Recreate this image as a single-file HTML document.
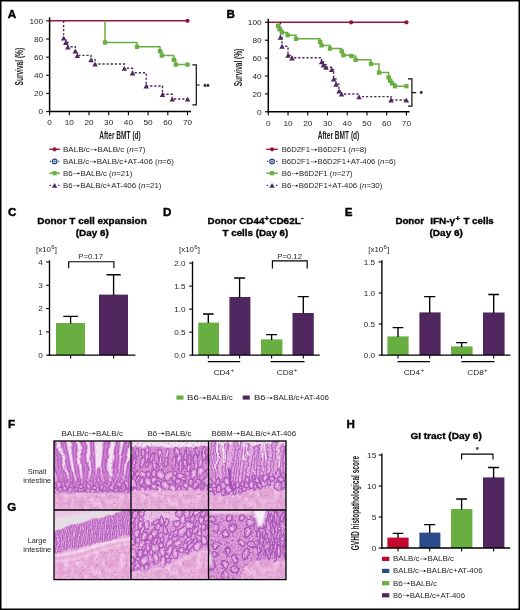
<!DOCTYPE html>
<html><head><meta charset="utf-8"><title>Figure</title>
<style>
html,body{margin:0;padding:0;background:#fff;}
body{width:520px;height:610px;overflow:hidden;position:relative;font-family:"Liberation Sans",sans-serif;}
svg{position:absolute;left:0;top:0;display:block;}
svg text{font-family:"Liberation Sans",sans-serif;}
#frame{position:absolute;left:0;top:0;width:520px;height:610px;box-sizing:border-box;border:1.5px solid #000;pointer-events:none;}
</style></head><body>
<svg width="520" height="610" viewBox="0 0 520 610">
<rect x="0" y="0" width="520" height="610" fill="#fff"/>
<g style="filter:blur(0.32px)">
<defs>
<filter id="hpink" x="0" y="0" width="100%" height="100%" color-interpolation-filters="sRGB">
  <feTurbulence type="fractalNoise" baseFrequency="0.2 0.12" numOctaves="2" seed="23" result="n2"/>
  <feColorMatrix in="n2" type="matrix" values="0 0 0 0 0.97  0 0 0 0 0.80  0 0 0 0 0.92  0 1.6 1.2 0 -1.15" result="lt"/>
  <feTurbulence type="fractalNoise" baseFrequency="0.5" numOctaves="2" seed="9" result="n"/>
  <feColorMatrix in="n" type="matrix" values="0 0 0 0 0.68  0 0 0 0 0.36  0 0 0 0 0.72  1.3 1.3 0 0 -1.42" result="dk0"/>
  <feGaussianBlur in="dk0" stdDeviation="0.3" result="dk"/>
  <feMerge result="m"><feMergeNode in="SourceGraphic"/><feMergeNode in="lt"/><feMergeNode in="dk"/></feMerge>
  <feComposite in="m" in2="SourceAlpha" operator="in" result="c"/>
  <feGaussianBlur in="c" stdDeviation="0.4"/>
</filter>
<filter id="hdisp" x="0" y="0" width="100%" height="100%" color-interpolation-filters="sRGB">
  <feTurbulence type="fractalNoise" baseFrequency="0.07" numOctaves="1" seed="4" result="t"/>
  <feDisplacementMap in="SourceGraphic" in2="t" scale="8" xChannelSelector="R" yChannelSelector="G" result="d"/>
  <feTurbulence type="fractalNoise" baseFrequency="0.5" numOctaves="2" seed="15" result="n"/>
  <feColorMatrix in="n" type="matrix" values="0 0 0 0 0.58  0 0 0 0 0.25  0 0 0 0 0.66  1.3 1.3 0 0 -1.5" result="dk0"/>
  <feGaussianBlur in="dk0" stdDeviation="0.3" result="dk1"/>
  <feComposite in="dk1" in2="d" operator="in" result="dk"/>
  <feMerge result="m"><feMergeNode in="d"/><feMergeNode in="dk"/></feMerge>
  <feGaussianBlur in="m" stdDeviation="0.5"/>
</filter>
<filter id="hdisp2" x="0" y="0" width="100%" height="100%" color-interpolation-filters="sRGB">
  <feTurbulence type="fractalNoise" baseFrequency="0.09" numOctaves="1" seed="14" result="t"/>
  <feDisplacementMap in="SourceGraphic" in2="t" scale="7" xChannelSelector="R" yChannelSelector="G" result="d"/>
  <feTurbulence type="fractalNoise" baseFrequency="0.5" numOctaves="2" seed="25" result="n"/>
  <feColorMatrix in="n" type="matrix" values="0 0 0 0 0.58  0 0 0 0 0.25  0 0 0 0 0.66  1.3 1.3 0 0 -1.36" result="dk0"/>
  <feGaussianBlur in="dk0" stdDeviation="0.3" result="dk1"/>
  <feComposite in="dk1" in2="d" operator="in" result="dk"/>
  <feMerge result="m"><feMergeNode in="d"/><feMergeNode in="dk"/></feMerge>
  <feGaussianBlur in="m" stdDeviation="0.55"/>
</filter>
<filter id="hdisp3" x="0" y="0" width="100%" height="100%" color-interpolation-filters="sRGB">
  <feTurbulence type="fractalNoise" baseFrequency="0.09" numOctaves="1" seed="31" result="t"/>
  <feDisplacementMap in="SourceGraphic" in2="t" scale="7" xChannelSelector="R" yChannelSelector="G" result="d"/>
  <feTurbulence type="fractalNoise" baseFrequency="0.5" numOctaves="2" seed="35" result="n"/>
  <feColorMatrix in="n" type="matrix" values="0 0 0 0 0.58  0 0 0 0 0.25  0 0 0 0 0.66  1.3 1.3 0 0 -1.2" result="dk0"/>
  <feGaussianBlur in="dk0" stdDeviation="0.3" result="dk1"/>
  <feComposite in="dk1" in2="d" operator="in" result="dk"/>
  <feMerge result="m"><feMergeNode in="d"/><feMergeNode in="dk"/></feMerge>
  <feGaussianBlur in="m" stdDeviation="0.55"/>
</filter>
<filter id="hblur" x="-10%" y="-10%" width="120%" height="120%"><feGaussianBlur stdDeviation="0.9"/></filter>
<filter id="hblur2" x="-10%" y="-10%" width="120%" height="120%"><feGaussianBlur stdDeviation="1.6"/></filter>

<filter id="hr1" x="0" y="0" width="100%" height="100%" color-interpolation-filters="sRGB">
  <feTurbulence type="fractalNoise" baseFrequency="0.085" numOctaves="1" seed="3" result="t"/>
  <feColorMatrix in="t" type="matrix" values="2 0 0 0 -0.5  2 0 0 0 -0.5  2 0 0 0 -0.5  0 0 0 0 1" result="g"/>
  <feComponentTransfer in="g" result="map"><feFuncR type="table" tableValues="0.847 0.847 0.847 0.651 0.902 0.929 0.902 0.651 0.847 0.847 0.651 0.902 0.953 0.902 0.651 0.847 0.847 0.651 0.902 0.929 0.902 0.651 0.847 0.847 0.847"/><feFuncG type="table" tableValues="0.565 0.565 0.565 0.306 0.671 0.753 0.671 0.306 0.565 0.565 0.306 0.671 0.851 0.671 0.306 0.565 0.565 0.306 0.671 0.753 0.671 0.306 0.565 0.565 0.565"/><feFuncB type="table" tableValues="0.824 0.824 0.824 0.714 0.871 0.906 0.871 0.714 0.824 0.824 0.714 0.871 0.937 0.871 0.714 0.824 0.824 0.714 0.871 0.906 0.871 0.714 0.824 0.824 0.824"/></feComponentTransfer>
  <feTurbulence type="fractalNoise" baseFrequency="0.45" numOctaves="2" seed="14" result="n"/>
  <feColorMatrix in="n" type="matrix" values="0 0 0 0 0.604  0 0 0 0 0.271  0 0 0 0 0.678  1.3 1.3 0 0 -1.36" result="dk0"/>
  <feGaussianBlur in="dk0" stdDeviation="0.3" result="dk"/>
  <feMerge result="m"><feMergeNode in="map"/><feMergeNode in="dk"/></feMerge>
  <feComposite in="m" in2="SourceAlpha" operator="in" result="c"/>
  <feGaussianBlur in="c" stdDeviation="0.45"/>
</filter>

<filter id="hr1b" x="0" y="0" width="100%" height="100%" color-interpolation-filters="sRGB">
  <feTurbulence type="fractalNoise" baseFrequency="0.08" numOctaves="1" seed="17" result="t"/>
  <feColorMatrix in="t" type="matrix" values="2 0 0 0 -0.5  2 0 0 0 -0.5  2 0 0 0 -0.5  0 0 0 0 1" result="g"/>
  <feComponentTransfer in="g" result="map"><feFuncR type="table" tableValues="0.847 0.847 0.847 0.651 0.902 0.929 0.902 0.651 0.847 0.847 0.651 0.902 0.953 0.902 0.651 0.847 0.847 0.651 0.902 0.929 0.902 0.651 0.847 0.847 0.847"/><feFuncG type="table" tableValues="0.565 0.565 0.565 0.306 0.671 0.753 0.671 0.306 0.565 0.565 0.306 0.671 0.851 0.671 0.306 0.565 0.565 0.306 0.671 0.753 0.671 0.306 0.565 0.565 0.565"/><feFuncB type="table" tableValues="0.824 0.824 0.824 0.714 0.871 0.906 0.871 0.714 0.824 0.824 0.714 0.871 0.937 0.871 0.714 0.824 0.824 0.714 0.871 0.906 0.871 0.714 0.824 0.824 0.824"/></feComponentTransfer>
  <feTurbulence type="fractalNoise" baseFrequency="0.45" numOctaves="2" seed="28" result="n"/>
  <feColorMatrix in="n" type="matrix" values="0 0 0 0 0.604  0 0 0 0 0.271  0 0 0 0 0.678  1.3 1.3 0 0 -1.36" result="dk0"/>
  <feGaussianBlur in="dk0" stdDeviation="0.3" result="dk"/>
  <feMerge result="m"><feMergeNode in="map"/><feMergeNode in="dk"/></feMerge>
  <feComposite in="m" in2="SourceAlpha" operator="in" result="c"/>
  <feGaussianBlur in="c" stdDeviation="0.45"/>
</filter>

<filter id="hr1c" x="0" y="0" width="100%" height="100%" color-interpolation-filters="sRGB">
  <feTurbulence type="fractalNoise" baseFrequency="0.08" numOctaves="1" seed="29" result="t"/>
  <feColorMatrix in="t" type="matrix" values="2 0 0 0 -0.5  2 0 0 0 -0.5  2 0 0 0 -0.5  0 0 0 0 1" result="g"/>
  <feComponentTransfer in="g" result="map"><feFuncR type="table" tableValues="0.847 0.847 0.847 0.651 0.902 0.929 0.902 0.651 0.847 0.847 0.651 0.902 0.953 0.902 0.651 0.847 0.847 0.651 0.902 0.929 0.902 0.651 0.847 0.847 0.847"/><feFuncG type="table" tableValues="0.565 0.565 0.565 0.306 0.671 0.753 0.671 0.306 0.565 0.565 0.306 0.671 0.851 0.671 0.306 0.565 0.565 0.306 0.671 0.753 0.671 0.306 0.565 0.565 0.565"/><feFuncB type="table" tableValues="0.824 0.824 0.824 0.714 0.871 0.906 0.871 0.714 0.824 0.824 0.714 0.871 0.937 0.871 0.714 0.824 0.824 0.714 0.871 0.906 0.871 0.714 0.824 0.824 0.824"/></feComponentTransfer>
  <feTurbulence type="fractalNoise" baseFrequency="0.45" numOctaves="2" seed="40" result="n"/>
  <feColorMatrix in="n" type="matrix" values="0 0 0 0 0.604  0 0 0 0 0.271  0 0 0 0 0.678  1.3 1.3 0 0 -1.2" result="dk0"/>
  <feGaussianBlur in="dk0" stdDeviation="0.3" result="dk"/>
  <feMerge result="m"><feMergeNode in="map"/><feMergeNode in="dk"/></feMerge>
  <feComposite in="m" in2="SourceAlpha" operator="in" result="c"/>
  <feGaussianBlur in="c" stdDeviation="0.45"/>
</filter>

<filter id="hr2" x="0" y="0" width="100%" height="100%" color-interpolation-filters="sRGB">
  <feTurbulence type="fractalNoise" baseFrequency="0.11 0.032" numOctaves="1" seed="8" result="t"/>
  <feColorMatrix in="t" type="matrix" values="2 0 0 0 -0.5  2 0 0 0 -0.5  2 0 0 0 -0.5  0 0 0 0 1" result="g"/>
  <feComponentTransfer in="g" result="map"><feFuncR type="table" tableValues="0.847 0.847 0.847 0.651 0.902 0.929 0.902 0.651 0.847 0.847 0.651 0.902 0.953 0.902 0.651 0.847 0.847 0.651 0.902 0.929 0.902 0.651 0.847 0.847 0.847"/><feFuncG type="table" tableValues="0.565 0.565 0.565 0.306 0.671 0.753 0.671 0.306 0.565 0.565 0.306 0.671 0.851 0.671 0.306 0.565 0.565 0.306 0.671 0.753 0.671 0.306 0.565 0.565 0.565"/><feFuncB type="table" tableValues="0.824 0.824 0.824 0.714 0.871 0.906 0.871 0.714 0.824 0.824 0.714 0.871 0.937 0.871 0.714 0.824 0.824 0.714 0.871 0.906 0.871 0.714 0.824 0.824 0.824"/></feComponentTransfer>
  <feTurbulence type="fractalNoise" baseFrequency="0.45" numOctaves="2" seed="19" result="n"/>
  <feColorMatrix in="n" type="matrix" values="0 0 0 0 0.604  0 0 0 0 0.271  0 0 0 0 0.678  1.3 1.3 0 0 -1.42" result="dk0"/>
  <feGaussianBlur in="dk0" stdDeviation="0.3" result="dk"/>
  <feMerge result="m"><feMergeNode in="map"/><feMergeNode in="dk"/></feMerge>
  <feComposite in="m" in2="SourceAlpha" operator="in" result="c"/>
  <feGaussianBlur in="c" stdDeviation="0.45"/>
</filter>

<filter id="hr3" x="0" y="0" width="100%" height="100%" color-interpolation-filters="sRGB">
  <feTurbulence type="fractalNoise" baseFrequency="0.15 0.10" numOctaves="1" seed="41" result="t"/>
  <feColorMatrix in="t" type="matrix" values="2 0 0 0 -0.5  2 0 0 0 -0.5  2 0 0 0 -0.5  0 0 0 0 1" result="g"/>
  <feComponentTransfer in="g" result="map"><feFuncR type="table" tableValues="0.847 0.847 0.847 0.651 0.902 0.929 0.902 0.651 0.847 0.847 0.651 0.902 0.953 0.902 0.651 0.847 0.847 0.651 0.902 0.929 0.902 0.651 0.847 0.847 0.847"/><feFuncG type="table" tableValues="0.565 0.565 0.565 0.306 0.671 0.753 0.671 0.306 0.565 0.565 0.306 0.671 0.851 0.671 0.306 0.565 0.565 0.306 0.671 0.753 0.671 0.306 0.565 0.565 0.565"/><feFuncB type="table" tableValues="0.824 0.824 0.824 0.714 0.871 0.906 0.871 0.714 0.824 0.824 0.714 0.871 0.937 0.871 0.714 0.824 0.824 0.714 0.871 0.906 0.871 0.714 0.824 0.824 0.824"/></feComponentTransfer>
  <feTurbulence type="fractalNoise" baseFrequency="0.5" numOctaves="2" seed="52" result="n"/>
  <feColorMatrix in="n" type="matrix" values="0 0 0 0 0.604  0 0 0 0 0.271  0 0 0 0 0.678  1.3 1.3 0 0 -1.3" result="dk0"/>
  <feGaussianBlur in="dk0" stdDeviation="0.3" result="dk"/>
  <feMerge result="m"><feMergeNode in="map"/><feMergeNode in="dk"/></feMerge>
  <feComposite in="m" in2="SourceAlpha" operator="in" result="c"/>
  <feGaussianBlur in="c" stdDeviation="0.45"/>
</filter>

<filter id="hv1" x="0" y="0" width="100%" height="100%" color-interpolation-filters="sRGB">
  <feTurbulence type="fractalNoise" baseFrequency="0.27 0.03" numOctaves="1" seed="5" result="t"/>
  <feColorMatrix in="t" type="matrix" values="2 0 0 0 -0.5  2 0 0 0 -0.5  2 0 0 0 -0.5  0 0 0 0 1" result="g"/>
  <feComponentTransfer in="g" result="map"><feFuncR type="table" tableValues="0.965 0.965 0.965 0.965 0.925 0.678 0.804 0.843 0.843 0.804 0.678 0.925 0.965 0.925 0.678 0.804 0.678"/><feFuncG type="table" tableValues="0.918 0.918 0.918 0.918 0.737 0.322 0.486 0.541 0.541 0.486 0.322 0.737 0.918 0.737 0.322 0.486 0.322"/><feFuncB type="table" tableValues="0.961 0.961 0.961 0.961 0.894 0.741 0.812 0.839 0.839 0.812 0.741 0.894 0.961 0.894 0.741 0.812 0.741"/></feComponentTransfer>
  <feComposite in="map" in2="SourceAlpha" operator="in" result="c"/>
  <feGaussianBlur in="c" stdDeviation="0.45"/>
</filter>

<filter id="hv2" x="0" y="0" width="100%" height="100%" color-interpolation-filters="sRGB">
  <feTurbulence type="fractalNoise" baseFrequency="0.19 0.035" numOctaves="1" seed="12" result="t"/>
  <feColorMatrix in="t" type="matrix" values="2 0 0 0 -0.5  2 0 0 0 -0.5  2 0 0 0 -0.5  0 0 0 0 1" result="g"/>
  <feComponentTransfer in="g" result="map"><feFuncR type="table" tableValues="0.804 0.678 0.925 0.965 0.925 0.678 0.804 0.843 0.843 0.804 0.678 0.925 0.965 0.925 0.678 0.804 0.804"/><feFuncG type="table" tableValues="0.486 0.322 0.737 0.918 0.737 0.322 0.486 0.541 0.541 0.486 0.322 0.737 0.918 0.737 0.322 0.486 0.486"/><feFuncB type="table" tableValues="0.812 0.741 0.894 0.961 0.894 0.741 0.812 0.839 0.839 0.812 0.741 0.894 0.961 0.894 0.741 0.812 0.812"/></feComponentTransfer>
  <feTurbulence type="fractalNoise" baseFrequency="0.45" numOctaves="2" seed="23" result="n"/>
  <feColorMatrix in="n" type="matrix" values="0 0 0 0 0.604  0 0 0 0 0.271  0 0 0 0 0.678  1.3 1.3 0 0 -1.45" result="dk0"/>
  <feGaussianBlur in="dk0" stdDeviation="0.3" result="dk"/>
  <feMerge result="m"><feMergeNode in="map"/><feMergeNode in="dk"/></feMerge>
  <feComposite in="m" in2="SourceAlpha" operator="in" result="c"/>
  <feGaussianBlur in="c" stdDeviation="0.45"/>
</filter>

<filter id="hv3" x="0" y="0" width="100%" height="100%" color-interpolation-filters="sRGB">
  <feTurbulence type="fractalNoise" baseFrequency="0.2 0.05" numOctaves="1" seed="33" result="t"/>
  <feColorMatrix in="t" type="matrix" values="2 0 0 0 -0.5  2 0 0 0 -0.5  2 0 0 0 -0.5  0 0 0 0 1" result="g"/>
  <feComponentTransfer in="g" result="map"><feFuncR type="table" tableValues="0.804 0.678 0.925 0.965 0.925 0.678 0.804 0.843 0.843 0.804 0.678 0.925 0.965 0.925 0.678 0.804 0.804"/><feFuncG type="table" tableValues="0.486 0.322 0.737 0.918 0.737 0.322 0.486 0.541 0.541 0.486 0.322 0.737 0.918 0.737 0.322 0.486 0.486"/><feFuncB type="table" tableValues="0.812 0.741 0.894 0.961 0.894 0.741 0.812 0.839 0.839 0.812 0.741 0.894 0.961 0.894 0.741 0.812 0.812"/></feComponentTransfer>
  <feTurbulence type="fractalNoise" baseFrequency="0.45" numOctaves="2" seed="44" result="n"/>
  <feColorMatrix in="n" type="matrix" values="0 0 0 0 0.604  0 0 0 0 0.271  0 0 0 0 0.678  1.3 1.3 0 0 -1.42" result="dk0"/>
  <feGaussianBlur in="dk0" stdDeviation="0.3" result="dk"/>
  <feMerge result="m"><feMergeNode in="map"/><feMergeNode in="dk"/></feMerge>
  <feComposite in="m" in2="SourceAlpha" operator="in" result="c"/>
  <feGaussianBlur in="c" stdDeviation="0.45"/>
</filter>

<filter id="hg1" x="0" y="0" width="100%" height="100%" color-interpolation-filters="sRGB">
  <feTurbulence type="fractalNoise" baseFrequency="0.16" numOctaves="1" seed="3" result="t"/>
  <feColorMatrix in="t" type="matrix" values="2 0 0 0 -0.5  2 0 0 0 -0.5  2 0 0 0 -0.5  0 0 0 0 1" result="g"/>
  <feComponentTransfer in="g" result="map"><feFuncR type="table" tableValues="0.867 0.867 0.867 0.867 0.678 0.902 0.953 0.902 0.678 0.867 0.678 0.902 0.953 0.902 0.678 0.867 0.867"/><feFuncG type="table" tableValues="0.604 0.604 0.604 0.604 0.322 0.678 0.851 0.678 0.322 0.604 0.322 0.678 0.851 0.678 0.322 0.604 0.604"/><feFuncB type="table" tableValues="0.839 0.839 0.839 0.839 0.741 0.875 0.937 0.875 0.741 0.839 0.741 0.875 0.937 0.875 0.741 0.839 0.839"/></feComponentTransfer>
  <feTurbulence type="fractalNoise" baseFrequency="0.45" numOctaves="2" seed="14" result="n"/>
  <feColorMatrix in="n" type="matrix" values="0 0 0 0 0.604  0 0 0 0 0.271  0 0 0 0 0.678  1.3 1.3 0 0 -1.36" result="dk0"/>
  <feGaussianBlur in="dk0" stdDeviation="0.3" result="dk"/>
  <feMerge result="m"><feMergeNode in="map"/><feMergeNode in="dk"/></feMerge>
  <feComposite in="m" in2="SourceAlpha" operator="in" result="c"/>
  <feGaussianBlur in="c" stdDeviation="0.45"/>
</filter>

<filter id="hg1b" x="0" y="0" width="100%" height="100%" color-interpolation-filters="sRGB">
  <feTurbulence type="fractalNoise" baseFrequency="0.15" numOctaves="1" seed="17" result="t"/>
  <feColorMatrix in="t" type="matrix" values="2 0 0 0 -0.5  2 0 0 0 -0.5  2 0 0 0 -0.5  0 0 0 0 1" result="g"/>
  <feComponentTransfer in="g" result="map"><feFuncR type="table" tableValues="0.867 0.867 0.867 0.867 0.678 0.902 0.953 0.902 0.678 0.867 0.678 0.902 0.953 0.902 0.678 0.867 0.867"/><feFuncG type="table" tableValues="0.604 0.604 0.604 0.604 0.322 0.678 0.851 0.678 0.322 0.604 0.322 0.678 0.851 0.678 0.322 0.604 0.604"/><feFuncB type="table" tableValues="0.839 0.839 0.839 0.839 0.741 0.875 0.937 0.875 0.741 0.839 0.741 0.875 0.937 0.875 0.741 0.839 0.839"/></feComponentTransfer>
  <feTurbulence type="fractalNoise" baseFrequency="0.45" numOctaves="2" seed="28" result="n"/>
  <feColorMatrix in="n" type="matrix" values="0 0 0 0 0.604  0 0 0 0 0.271  0 0 0 0 0.678  1.3 1.3 0 0 -1.36" result="dk0"/>
  <feGaussianBlur in="dk0" stdDeviation="0.3" result="dk"/>
  <feMerge result="m"><feMergeNode in="map"/><feMergeNode in="dk"/></feMerge>
  <feComposite in="m" in2="SourceAlpha" operator="in" result="c"/>
  <feGaussianBlur in="c" stdDeviation="0.45"/>
</filter>

<filter id="hg1c" x="0" y="0" width="100%" height="100%" color-interpolation-filters="sRGB">
  <feTurbulence type="fractalNoise" baseFrequency="0.14" numOctaves="1" seed="29" result="t"/>
  <feColorMatrix in="t" type="matrix" values="2 0 0 0 -0.5  2 0 0 0 -0.5  2 0 0 0 -0.5  0 0 0 0 1" result="g"/>
  <feComponentTransfer in="g" result="map"><feFuncR type="table" tableValues="0.867 0.867 0.867 0.678 0.902 0.953 0.902 0.678 0.867 0.867 0.867 0.678 0.902 0.953 0.902 0.678 0.867"/><feFuncG type="table" tableValues="0.604 0.604 0.604 0.322 0.678 0.851 0.678 0.322 0.604 0.604 0.604 0.322 0.678 0.851 0.678 0.322 0.604"/><feFuncB type="table" tableValues="0.839 0.839 0.839 0.741 0.875 0.937 0.875 0.741 0.839 0.839 0.839 0.741 0.875 0.937 0.875 0.741 0.839"/></feComponentTransfer>
  <feTurbulence type="fractalNoise" baseFrequency="0.45" numOctaves="2" seed="40" result="n"/>
  <feColorMatrix in="n" type="matrix" values="0 0 0 0 0.604  0 0 0 0 0.271  0 0 0 0 0.678  1.3 1.3 0 0 -1.22" result="dk0"/>
  <feGaussianBlur in="dk0" stdDeviation="0.3" result="dk"/>
  <feMerge result="m"><feMergeNode in="map"/><feMergeNode in="dk"/></feMerge>
  <feComposite in="m" in2="SourceAlpha" operator="in" result="c"/>
  <feGaussianBlur in="c" stdDeviation="0.45"/>
</filter>

<filter id="hg3" x="0" y="0" width="100%" height="100%" color-interpolation-filters="sRGB">
  <feTurbulence type="fractalNoise" baseFrequency="0.24 0.15" numOctaves="1" seed="41" result="t"/>
  <feColorMatrix in="t" type="matrix" values="2 0 0 0 -0.5  2 0 0 0 -0.5  2 0 0 0 -0.5  0 0 0 0 1" result="g"/>
  <feComponentTransfer in="g" result="map"><feFuncR type="table" tableValues="0.867 0.867 0.867 0.867 0.678 0.902 0.953 0.902 0.678 0.867 0.678 0.902 0.953 0.902 0.678 0.867 0.867"/><feFuncG type="table" tableValues="0.604 0.604 0.604 0.604 0.322 0.678 0.851 0.678 0.322 0.604 0.322 0.678 0.851 0.678 0.322 0.604 0.604"/><feFuncB type="table" tableValues="0.839 0.839 0.839 0.839 0.741 0.875 0.937 0.875 0.741 0.839 0.741 0.875 0.937 0.875 0.741 0.839 0.839"/></feComponentTransfer>
  <feTurbulence type="fractalNoise" baseFrequency="0.5" numOctaves="2" seed="52" result="n"/>
  <feColorMatrix in="n" type="matrix" values="0 0 0 0 0.604  0 0 0 0 0.271  0 0 0 0 0.678  1.3 1.3 0 0 -1.3" result="dk0"/>
  <feGaussianBlur in="dk0" stdDeviation="0.3" result="dk"/>
  <feMerge result="m"><feMergeNode in="map"/><feMergeNode in="dk"/></feMerge>
  <feComposite in="m" in2="SourceAlpha" operator="in" result="c"/>
  <feGaussianBlur in="c" stdDeviation="0.45"/>
</filter>

<linearGradient id="hfade" x1="0" y1="0" x2="0" y2="1"><stop offset="0" stop-color="#fff"/><stop offset="0.74" stop-color="#fff"/><stop offset="1" stop-color="#000"/></linearGradient>
<mask id="hm00" maskUnits="userSpaceOnUse" x="-5" y="-5" width="90" height="60"><rect x="-5" y="-5" width="90" height="50.5" fill="url(#hfade)"/></mask>
<mask id="hm01" maskUnits="userSpaceOnUse" x="-5" y="-5" width="90" height="60"><rect x="-5" y="-5" width="90" height="34.0" fill="url(#hfade)"/></mask>
<clipPath id="hc00"><rect x="54.0" y="441.0" width="77.0" height="69.0"/></clipPath>
<clipPath id="hc01"><rect x="131.0" y="441.0" width="77.5" height="69.0"/></clipPath>
<clipPath id="hc02"><rect x="208.5" y="441.0" width="77.5" height="69.0"/></clipPath>
<clipPath id="hc10"><rect x="54.0" y="510.0" width="77.0" height="69.60000000000002"/></clipPath>
<clipPath id="hc11"><rect x="131.0" y="510.0" width="77.5" height="69.60000000000002"/></clipPath>
<clipPath id="hc12"><rect x="208.5" y="510.0" width="77.5" height="69.60000000000002"/></clipPath>
</defs>
<g clip-path="url(#hc00)"><g transform="translate(54.0 441.0)">
<rect x="-2" y="-2" width="81.0" height="73.0" fill="#e3a5d4" filter="url(#hpink)"/>
<g filter="url(#hdisp2)">
<rect x="-6" y="34.5" width="89.0" height="18.3" fill="#d58bd0"/>
<ellipse cx="34.6" cy="45.0" rx="2.1" ry="3.1" transform="rotate(-25 34.6 45.0)" fill="#e4a8dd" stroke="#b05cbd" stroke-width="1.2"/>
<ellipse cx="13.0" cy="44.5" rx="1.7" ry="2.9" transform="rotate(33 13.0 44.5)" fill="#e4a8dd" stroke="#b05cbd" stroke-width="1.2"/>
<ellipse cx="62.2" cy="39.7" rx="1.5" ry="2.6" transform="rotate(-29 62.2 39.7)" fill="#e4a8dd" stroke="#b05cbd" stroke-width="1.2"/>
<ellipse cx="5.3" cy="47.9" rx="2.1" ry="2.5" transform="rotate(-23 5.3 47.9)" fill="#e4a8dd" stroke="#b05cbd" stroke-width="1.2"/>
<ellipse cx="1.4" cy="49.8" rx="1.9" ry="3.5" transform="rotate(-29 1.4 49.8)" fill="#e4a8dd" stroke="#b05cbd" stroke-width="1.2"/>
<ellipse cx="51.0" cy="45.6" rx="1.4" ry="2.4" transform="rotate(19 51.0 45.6)" fill="#e4a8dd" stroke="#b05cbd" stroke-width="1.2"/>
<ellipse cx="-0.8" cy="44.7" rx="1.3" ry="2.4" transform="rotate(-5 -0.8 44.7)" fill="#e4a8dd" stroke="#b05cbd" stroke-width="1.2"/>
<ellipse cx="40.0" cy="45.9" rx="1.8" ry="2.6" transform="rotate(-10 40.0 45.9)" fill="#e4a8dd" stroke="#b05cbd" stroke-width="1.2"/>
<ellipse cx="78.8" cy="50.0" rx="1.9" ry="3.2" transform="rotate(-1 78.8 50.0)" fill="#e4a8dd" stroke="#b05cbd" stroke-width="1.2"/>
<ellipse cx="55.3" cy="42.2" rx="1.5" ry="2.5" transform="rotate(-4 55.3 42.2)" fill="#e4a8dd" stroke="#b05cbd" stroke-width="1.2"/>
<ellipse cx="21.4" cy="39.4" rx="1.8" ry="3.2" transform="rotate(7 21.4 39.4)" fill="#e4a8dd" stroke="#b05cbd" stroke-width="1.2"/>
<ellipse cx="30.4" cy="48.3" rx="1.8" ry="2.3" transform="rotate(-5 30.4 48.3)" fill="#e4a8dd" stroke="#b05cbd" stroke-width="1.2"/>
<ellipse cx="75.6" cy="48.3" rx="1.5" ry="1.9" transform="rotate(29 75.6 48.3)" fill="#e4a8dd" stroke="#b05cbd" stroke-width="1.2"/>
<ellipse cx="15.0" cy="49.0" rx="2.1" ry="2.2" transform="rotate(-7 15.0 49.0)" fill="#e4a8dd" stroke="#b05cbd" stroke-width="1.2"/>
<ellipse cx="77.4" cy="43.2" rx="1.5" ry="2.1" transform="rotate(7 77.4 43.2)" fill="#e4a8dd" stroke="#b05cbd" stroke-width="1.2"/>
<ellipse cx="5.1" cy="42.4" rx="2.4" ry="2.7" transform="rotate(12 5.1 42.4)" fill="#e4a8dd" stroke="#b05cbd" stroke-width="1.2"/>
<ellipse cx="50.1" cy="40.0" rx="2.0" ry="2.2" transform="rotate(-16 50.1 40.0)" fill="#e4a8dd" stroke="#b05cbd" stroke-width="1.2"/>
<ellipse cx="24.6" cy="42.0" rx="1.5" ry="2.0" transform="rotate(-30 24.6 42.0)" fill="#e4a8dd" stroke="#b05cbd" stroke-width="1.2"/>
<ellipse cx="46.7" cy="42.9" rx="1.5" ry="3.0" transform="rotate(-31 46.7 42.9)" fill="#e4a8dd" stroke="#b05cbd" stroke-width="1.2"/>
<ellipse cx="68.2" cy="40.7" rx="1.3" ry="2.5" transform="rotate(13 68.2 40.7)" fill="#e4a8dd" stroke="#b05cbd" stroke-width="1.2"/>
<ellipse cx="71.6" cy="48.0" rx="1.4" ry="2.7" transform="rotate(6 71.6 48.0)" fill="#e4a8dd" stroke="#b05cbd" stroke-width="1.2"/>
<ellipse cx="43.3" cy="48.3" rx="1.8" ry="2.8" transform="rotate(-4 43.3 48.3)" fill="#e4a8dd" stroke="#b05cbd" stroke-width="1.2"/>
<ellipse cx="20.7" cy="49.1" rx="1.5" ry="2.3" transform="rotate(-12 20.7 49.1)" fill="#e4a8dd" stroke="#b05cbd" stroke-width="1.2"/>
<ellipse cx="44.3" cy="40.1" rx="1.9" ry="2.2" transform="rotate(6 44.3 40.1)" fill="#e4a8dd" stroke="#b05cbd" stroke-width="1.2"/>
<ellipse cx="0.8" cy="38.8" rx="1.9" ry="3.4" transform="rotate(33 0.8 38.8)" fill="#e4a8dd" stroke="#b05cbd" stroke-width="1.2"/>
<ellipse cx="54.8" cy="49.6" rx="1.2" ry="2.4" transform="rotate(7 54.8 49.6)" fill="#e4a8dd" stroke="#b05cbd" stroke-width="1.2"/>
<ellipse cx="23.8" cy="50.0" rx="1.6" ry="1.9" transform="rotate(4 23.8 50.0)" fill="#e4a8dd" stroke="#b05cbd" stroke-width="1.2"/>
<ellipse cx="57.7" cy="46.7" rx="2.2" ry="2.6" transform="rotate(25 57.7 46.7)" fill="#e4a8dd" stroke="#b05cbd" stroke-width="1.2"/>
<ellipse cx="72.1" cy="42.6" rx="1.7" ry="3.1" transform="rotate(-9 72.1 42.6)" fill="#e4a8dd" stroke="#b05cbd" stroke-width="1.2"/>
<ellipse cx="62.0" cy="48.5" rx="1.9" ry="2.5" transform="rotate(27 62.0 48.5)" fill="#e4a8dd" stroke="#b05cbd" stroke-width="1.2"/>
<ellipse cx="37.0" cy="41.3" rx="1.9" ry="2.8" transform="rotate(-30 37.0 41.3)" fill="#e4a8dd" stroke="#b05cbd" stroke-width="1.2"/>
<ellipse cx="17.2" cy="40.2" rx="1.3" ry="2.3" transform="rotate(-5 17.2 40.2)" fill="#e4a8dd" stroke="#b05cbd" stroke-width="1.2"/>
<ellipse cx="12.5" cy="38.8" rx="2.0" ry="2.2" transform="rotate(25 12.5 38.8)" fill="#e4a8dd" stroke="#b05cbd" stroke-width="1.2"/>
<ellipse cx="26.0" cy="46.6" rx="2.0" ry="2.4" transform="rotate(-22 26.0 46.6)" fill="#e4a8dd" stroke="#b05cbd" stroke-width="1.2"/>
<ellipse cx="47.8" cy="47.2" rx="1.7" ry="2.5" transform="rotate(-18 47.8 47.2)" fill="#e4a8dd" stroke="#b05cbd" stroke-width="1.2"/>
<ellipse cx="74.9" cy="39.6" rx="1.6" ry="2.2" transform="rotate(-3 74.9 39.6)" fill="#e4a8dd" stroke="#b05cbd" stroke-width="1.2"/>
<ellipse cx="66.5" cy="48.9" rx="1.4" ry="2.6" transform="rotate(6 66.5 48.9)" fill="#e4a8dd" stroke="#b05cbd" stroke-width="1.2"/>
<ellipse cx="19.8" cy="44.0" rx="1.5" ry="2.2" transform="rotate(23 19.8 44.0)" fill="#e4a8dd" stroke="#b05cbd" stroke-width="1.2"/>
<ellipse cx="40.9" cy="40.5" rx="1.4" ry="2.6" transform="rotate(29 40.9 40.5)" fill="#e4a8dd" stroke="#b05cbd" stroke-width="1.2"/>
<ellipse cx="65.4" cy="43.4" rx="2.4" ry="2.4" transform="rotate(21 65.4 43.4)" fill="#e4a8dd" stroke="#b05cbd" stroke-width="1.2"/>
<ellipse cx="59.9" cy="42.4" rx="1.6" ry="2.8" transform="rotate(15 59.9 42.4)" fill="#e4a8dd" stroke="#b05cbd" stroke-width="1.2"/>
<ellipse cx="30.8" cy="40.9" rx="1.4" ry="2.4" transform="rotate(11 30.8 40.9)" fill="#e4a8dd" stroke="#b05cbd" stroke-width="1.2"/>
<ellipse cx="38.8" cy="49.8" rx="2.2" ry="2.7" transform="rotate(30 38.8 49.8)" fill="#e4a8dd" stroke="#b05cbd" stroke-width="1.2"/>
<ellipse cx="9.7" cy="47.1" rx="1.7" ry="3.1" transform="rotate(-18 9.7 47.1)" fill="#e4a8dd" stroke="#b05cbd" stroke-width="1.2"/>
<ellipse cx="9.5" cy="43.1" rx="1.6" ry="2.4" transform="rotate(-22 9.5 43.1)" fill="#e4a8dd" stroke="#b05cbd" stroke-width="1.2"/>
<ellipse cx="34.2" cy="49.9" rx="2.1" ry="2.6" transform="rotate(9 34.2 49.9)" fill="#e4a8dd" stroke="#b05cbd" stroke-width="1.2"/>
<ellipse cx="17.0" cy="45.8" rx="1.7" ry="1.9" transform="rotate(-34 17.0 45.8)" fill="#e4a8dd" stroke="#b05cbd" stroke-width="1.2"/>
<ellipse cx="71.7" cy="39.1" rx="1.4" ry="2.3" transform="rotate(8 71.7 39.1)" fill="#e4a8dd" stroke="#b05cbd" stroke-width="1.2"/>
<ellipse cx="8.2" cy="39.4" rx="1.3" ry="2.4" transform="rotate(-33 8.2 39.4)" fill="#e4a8dd" stroke="#b05cbd" stroke-width="1.2"/>
<ellipse cx="27.6" cy="41.6" rx="1.5" ry="2.0" transform="rotate(-27 27.6 41.6)" fill="#e4a8dd" stroke="#b05cbd" stroke-width="1.2"/>
<ellipse cx="25.5" cy="38.7" rx="1.2" ry="2.4" transform="rotate(21 25.5 38.7)" fill="#e4a8dd" stroke="#b05cbd" stroke-width="1.2"/>
<ellipse cx="26.9" cy="50.0" rx="1.6" ry="1.9" transform="rotate(-2 26.9 50.0)" fill="#e4a8dd" stroke="#b05cbd" stroke-width="1.2"/>
<ellipse cx="78.7" cy="39.7" rx="1.9" ry="3.2" transform="rotate(8 78.7 39.7)" fill="#e4a8dd" stroke="#b05cbd" stroke-width="1.2"/>
<ellipse cx="50.6" cy="49.0" rx="1.5" ry="2.2" transform="rotate(3 50.6 49.0)" fill="#e4a8dd" stroke="#b05cbd" stroke-width="1.2"/>
<ellipse cx="33.4" cy="38.9" rx="1.7" ry="2.1" transform="rotate(-31 33.4 38.9)" fill="#e4a8dd" stroke="#b05cbd" stroke-width="1.2"/>
<ellipse cx="65.3" cy="39.1" rx="1.6" ry="1.9" transform="rotate(1 65.3 39.1)" fill="#e4a8dd" stroke="#b05cbd" stroke-width="1.2"/>
<ellipse cx="57.8" cy="39.0" rx="2.1" ry="2.4" transform="rotate(27 57.8 39.0)" fill="#e4a8dd" stroke="#b05cbd" stroke-width="1.2"/>
<ellipse cx="30.1" cy="44.9" rx="1.6" ry="2.1" transform="rotate(-34 30.1 44.9)" fill="#e4a8dd" stroke="#b05cbd" stroke-width="1.2"/>
</g>
<g mask="url(#hm00)"><g filter="url(#hdisp)">
<rect x="-6" y="-6" width="89.0" height="55.7" fill="#f3e4f2"/>
<path d="M0.4 45.5 Q-7.2 22.1 -17.3 -1.3" fill="none" stroke="#e4a0de" stroke-width="6.256755774170914" stroke-linecap="round" />
<path d="M0.4 45.5 Q-7.2 22.1 -17.3 -1.3" fill="none" stroke="#b762c4" stroke-width="4.356755774170914" stroke-linecap="round" />
<path d="M0.4 45.5 Q-7.2 22.1 -17.3 -1.3" fill="none" stroke="#d48bd5" stroke-width="1.3941618477346924" stroke-linecap="round" />
<path d="M7.2 45.5 Q1.8 21.6 -7.9 -2.4" fill="none" stroke="#e4a0de" stroke-width="6.535947938960321" stroke-linecap="round" />
<path d="M7.2 45.5 Q1.8 21.6 -7.9 -2.4" fill="none" stroke="#b762c4" stroke-width="4.635947938960322" stroke-linecap="round" />
<path d="M7.2 45.5 Q1.8 21.6 -7.9 -2.4" fill="none" stroke="#d48bd5" stroke-width="1.483503340467303" stroke-linecap="round" />
<path d="M12.6 45.5 Q4.9 22.6 0.2 -0.4" fill="none" stroke="#e4a0de" stroke-width="6.4054975393498825" stroke-linecap="round" />
<path d="M12.6 45.5 Q4.9 22.6 0.2 -0.4" fill="none" stroke="#b762c4" stroke-width="4.505497539349882" stroke-linecap="round" />
<path d="M12.6 45.5 Q4.9 22.6 0.2 -0.4" fill="none" stroke="#d48bd5" stroke-width="1.4417592125919623" stroke-linecap="round" />
<path d="M19.2 45.5 Q13.5 22.1 9.3 -1.3" fill="none" stroke="#e4a0de" stroke-width="6.041161362540052" stroke-linecap="round" />
<path d="M19.2 45.5 Q13.5 22.1 9.3 -1.3" fill="none" stroke="#b762c4" stroke-width="4.141161362540052" stroke-linecap="round" />
<path d="M19.2 45.5 Q13.5 22.1 9.3 -1.3" fill="none" stroke="#d48bd5" stroke-width="1.3251716360128165" stroke-linecap="round" />
<path d="M25.9 45.5 Q21.3 20.4 18.2 -4.7" fill="none" stroke="#e4a0de" stroke-width="6.00318158869703" stroke-linecap="round" />
<path d="M25.9 45.5 Q21.3 20.4 18.2 -4.7" fill="none" stroke="#b762c4" stroke-width="4.103181588697031" stroke-linecap="round" />
<path d="M25.9 45.5 Q21.3 20.4 18.2 -4.7" fill="none" stroke="#d48bd5" stroke-width="1.3130181083830499" stroke-linecap="round" />
<path d="M32.3 45.5 Q30.2 20.8 27.6 -3.9" fill="none" stroke="#e4a0de" stroke-width="6.562921345461902" stroke-linecap="round" />
<path d="M32.3 45.5 Q30.2 20.8 27.6 -3.9" fill="none" stroke="#b762c4" stroke-width="4.662921345461902" stroke-linecap="round" />
<path d="M32.3 45.5 Q30.2 20.8 27.6 -3.9" fill="none" stroke="#d48bd5" stroke-width="1.4921348305478086" stroke-linecap="round" />
<path d="M39.2 45.5 Q38.8 20.0 37.4 -5.6" fill="none" stroke="#e4a0de" stroke-width="6.65111919097451" stroke-linecap="round" />
<path d="M39.2 45.5 Q38.8 20.0 37.4 -5.6" fill="none" stroke="#b762c4" stroke-width="4.751119190974511" stroke-linecap="round" />
<path d="M39.2 45.5 Q38.8 20.0 37.4 -5.6" fill="none" stroke="#d48bd5" stroke-width="1.5203581411118436" stroke-linecap="round" />
<path d="M45.0 45.5 Q44.2 37.4 45.3 29.2" fill="none" stroke="#e4a0de" stroke-width="6.191087584576939" stroke-linecap="round" />
<path d="M45.0 45.5 Q44.2 37.4 45.3 29.2" fill="none" stroke="#b762c4" stroke-width="4.29108758457694" stroke-linecap="round" />
<path d="M45.0 45.5 Q44.2 37.4 45.3 29.2" fill="none" stroke="#d48bd5" stroke-width="1.3731480270646208" stroke-linecap="round" />
<path d="M50.9 45.5 Q50.9 22.7 54.0 -0.2" fill="none" stroke="#e4a0de" stroke-width="5.98298506546225" stroke-linecap="round" />
<path d="M50.9 45.5 Q50.9 22.7 54.0 -0.2" fill="none" stroke="#b762c4" stroke-width="4.082985065462251" stroke-linecap="round" />
<path d="M50.9 45.5 Q50.9 22.7 54.0 -0.2" fill="none" stroke="#d48bd5" stroke-width="1.3065552209479203" stroke-linecap="round" />
<path d="M57.7 45.5 Q62.3 21.9 63.8 -1.7" fill="none" stroke="#e4a0de" stroke-width="6.47998221271904" stroke-linecap="round" />
<path d="M57.7 45.5 Q62.3 21.9 63.8 -1.7" fill="none" stroke="#b762c4" stroke-width="4.579982212719041" stroke-linecap="round" />
<path d="M57.7 45.5 Q62.3 21.9 63.8 -1.7" fill="none" stroke="#d48bd5" stroke-width="1.465594308070093" stroke-linecap="round" />
<path d="M64.7 45.5 Q67.7 19.6 74.6 -6.4" fill="none" stroke="#e4a0de" stroke-width="6.426489434065532" stroke-linecap="round" />
<path d="M64.7 45.5 Q67.7 19.6 74.6 -6.4" fill="none" stroke="#b762c4" stroke-width="4.526489434065532" stroke-linecap="round" />
<path d="M64.7 45.5 Q67.7 19.6 74.6 -6.4" fill="none" stroke="#d48bd5" stroke-width="1.4484766189009701" stroke-linecap="round" />
<path d="M71.1 45.5 Q74.5 24.3 81.6 3.1" fill="none" stroke="#e4a0de" stroke-width="5.916531420720231" stroke-linecap="round" />
<path d="M71.1 45.5 Q74.5 24.3 81.6 3.1" fill="none" stroke="#b762c4" stroke-width="4.016531420720232" stroke-linecap="round" />
<path d="M71.1 45.5 Q74.5 24.3 81.6 3.1" fill="none" stroke="#d48bd5" stroke-width="1.2852900546304742" stroke-linecap="round" />
<path d="M76.3 45.5 Q85.7 20.0 91.3 -5.5" fill="none" stroke="#e4a0de" stroke-width="6.01420736608017" stroke-linecap="round" />
<path d="M76.3 45.5 Q85.7 20.0 91.3 -5.5" fill="none" stroke="#b762c4" stroke-width="4.114207366080169" stroke-linecap="round" />
<path d="M76.3 45.5 Q85.7 20.0 91.3 -5.5" fill="none" stroke="#d48bd5" stroke-width="1.3165463571456542" stroke-linecap="round" />
</g></g>
<rect x="-1" y="52.1" width="79.0" height="2.2" fill="#f0bde0" filter="url(#hblur)" opacity="0.9"/>
</g></g>
<g clip-path="url(#hc01)"><g transform="translate(131.0 441.0)">
<rect x="-2" y="-2" width="81.5" height="73.0" fill="#e3a5d4" filter="url(#hpink)"/>
<g filter="url(#hdisp2)">
<rect x="-6" y="-6" width="89.5" height="58.4" fill="#d88fd2"/>
<rect x="-6" y="-6" width="89.5" height="11.5" fill="#f3e4f2"/>
<ellipse cx="11.4" cy="20.8" rx="1.9" ry="5.6" transform="rotate(-5 11.4 20.8)" fill="#e4a8dd" stroke="#b05cbd" stroke-width="1.4"/>
<ellipse cx="11.4" cy="20.8" rx="0.5" ry="2.0" transform="rotate(-5 11.4 20.8)" fill="#f0cfea"/>
<ellipse cx="37.0" cy="13.6" rx="1.8" ry="6.2" transform="rotate(12 37.0 13.6)" fill="#e4a8dd" stroke="#b05cbd" stroke-width="1.4"/>
<ellipse cx="37.0" cy="13.6" rx="0.5" ry="2.2" transform="rotate(12 37.0 13.6)" fill="#f0cfea"/>
<ellipse cx="63.8" cy="18.1" rx="1.9" ry="5.0" transform="rotate(-11 63.8 18.1)" fill="#e4a8dd" stroke="#b05cbd" stroke-width="1.4"/>
<ellipse cx="63.8" cy="18.1" rx="0.5" ry="1.8" transform="rotate(-11 63.8 18.1)" fill="#f0cfea"/>
<ellipse cx="17.2" cy="10.4" rx="1.6" ry="5.4" transform="rotate(-0 17.2 10.4)" fill="#e4a8dd" stroke="#b05cbd" stroke-width="1.4"/>
<ellipse cx="17.2" cy="10.4" rx="0.5" ry="1.9" transform="rotate(-0 17.2 10.4)" fill="#f0cfea"/>
<ellipse cx="45.7" cy="11.4" rx="1.9" ry="5.9" transform="rotate(-1 45.7 11.4)" fill="#e4a8dd" stroke="#b05cbd" stroke-width="1.4"/>
<ellipse cx="45.7" cy="11.4" rx="0.5" ry="2.1" transform="rotate(-1 45.7 11.4)" fill="#f0cfea"/>
<ellipse cx="79.3" cy="21.6" rx="2.0" ry="6.0" transform="rotate(-10 79.3 21.6)" fill="#e4a8dd" stroke="#b05cbd" stroke-width="1.4"/>
<ellipse cx="79.3" cy="21.6" rx="0.6" ry="2.2" transform="rotate(-10 79.3 21.6)" fill="#f0cfea"/>
<ellipse cx="28.0" cy="12.7" rx="2.1" ry="5.6" transform="rotate(-6 28.0 12.7)" fill="#e4a8dd" stroke="#b05cbd" stroke-width="1.4"/>
<ellipse cx="28.0" cy="12.7" rx="0.6" ry="2.0" transform="rotate(-6 28.0 12.7)" fill="#f0cfea"/>
<ellipse cx="17.1" cy="22.2" rx="1.8" ry="4.5" transform="rotate(6 17.1 22.2)" fill="#e4a8dd" stroke="#b05cbd" stroke-width="1.4"/>
<ellipse cx="29.4" cy="25.5" rx="1.6" ry="5.5" transform="rotate(6 29.4 25.5)" fill="#e4a8dd" stroke="#b05cbd" stroke-width="1.4"/>
<ellipse cx="29.4" cy="25.5" rx="0.5" ry="2.0" transform="rotate(6 29.4 25.5)" fill="#f0cfea"/>
<ellipse cx="0.2" cy="11.8" rx="2.0" ry="5.6" transform="rotate(0 0.2 11.8)" fill="#e4a8dd" stroke="#b05cbd" stroke-width="1.4"/>
<ellipse cx="0.2" cy="11.8" rx="0.6" ry="2.0" transform="rotate(0 0.2 11.8)" fill="#f0cfea"/>
<ellipse cx="42.9" cy="21.7" rx="1.6" ry="5.1" transform="rotate(10 42.9 21.7)" fill="#e4a8dd" stroke="#b05cbd" stroke-width="1.4"/>
<ellipse cx="47.6" cy="18.8" rx="2.1" ry="5.1" transform="rotate(-8 47.6 18.8)" fill="#e4a8dd" stroke="#b05cbd" stroke-width="1.4"/>
<ellipse cx="47.6" cy="18.8" rx="0.6" ry="1.8" transform="rotate(-8 47.6 18.8)" fill="#f0cfea"/>
<ellipse cx="73.6" cy="15.6" rx="2.0" ry="5.1" transform="rotate(-7 73.6 15.6)" fill="#e4a8dd" stroke="#b05cbd" stroke-width="1.4"/>
<ellipse cx="73.6" cy="15.6" rx="0.6" ry="1.8" transform="rotate(-7 73.6 15.6)" fill="#f0cfea"/>
<ellipse cx="53.7" cy="20.6" rx="1.9" ry="6.5" transform="rotate(-11 53.7 20.6)" fill="#e4a8dd" stroke="#b05cbd" stroke-width="1.4"/>
<ellipse cx="53.7" cy="20.6" rx="0.5" ry="2.3" transform="rotate(-11 53.7 20.6)" fill="#f0cfea"/>
<ellipse cx="66.2" cy="11.1" rx="1.7" ry="4.9" transform="rotate(-14 66.2 11.1)" fill="#e4a8dd" stroke="#b05cbd" stroke-width="1.4"/>
<ellipse cx="21.6" cy="16.7" rx="1.5" ry="5.1" transform="rotate(12 21.6 16.7)" fill="#e4a8dd" stroke="#b05cbd" stroke-width="1.4"/>
<ellipse cx="57.4" cy="10.8" rx="1.7" ry="4.7" transform="rotate(-11 57.4 10.8)" fill="#e4a8dd" stroke="#b05cbd" stroke-width="1.4"/>
<ellipse cx="5.7" cy="11.8" rx="1.4" ry="4.9" transform="rotate(10 5.7 11.8)" fill="#e4a8dd" stroke="#b05cbd" stroke-width="1.4"/>
<ellipse cx="11.5" cy="13.1" rx="1.7" ry="5.3" transform="rotate(12 11.5 13.1)" fill="#e4a8dd" stroke="#b05cbd" stroke-width="1.4"/>
<ellipse cx="11.5" cy="13.1" rx="0.5" ry="1.9" transform="rotate(12 11.5 13.1)" fill="#f0cfea"/>
<ellipse cx="3.2" cy="21.9" rx="1.6" ry="4.9" transform="rotate(1 3.2 21.9)" fill="#e4a8dd" stroke="#b05cbd" stroke-width="1.4"/>
<ellipse cx="23.2" cy="24.0" rx="1.7" ry="5.1" transform="rotate(-9 23.2 24.0)" fill="#e4a8dd" stroke="#b05cbd" stroke-width="1.4"/>
<ellipse cx="57.9" cy="25.0" rx="1.7" ry="5.1" transform="rotate(14 57.9 25.0)" fill="#e4a8dd" stroke="#b05cbd" stroke-width="1.4"/>
<ellipse cx="57.9" cy="25.0" rx="0.5" ry="1.8" transform="rotate(14 57.9 25.0)" fill="#f0cfea"/>
<ellipse cx="49.5" cy="25.0" rx="1.6" ry="4.5" transform="rotate(5 49.5 25.0)" fill="#e4a8dd" stroke="#b05cbd" stroke-width="1.4"/>
<ellipse cx="70.6" cy="22.2" rx="1.8" ry="5.9" transform="rotate(11 70.6 22.2)" fill="#e4a8dd" stroke="#b05cbd" stroke-width="1.4"/>
<ellipse cx="70.6" cy="22.2" rx="0.5" ry="2.1" transform="rotate(11 70.6 22.2)" fill="#f0cfea"/>
<ellipse cx="58.5" cy="17.4" rx="1.4" ry="5.1" transform="rotate(1 58.5 17.4)" fill="#e4a8dd" stroke="#b05cbd" stroke-width="1.4"/>
<ellipse cx="53.6" cy="14.8" rx="1.5" ry="5.3" transform="rotate(7 53.6 14.8)" fill="#e4a8dd" stroke="#b05cbd" stroke-width="1.4"/>
<ellipse cx="79.2" cy="15.3" rx="1.8" ry="4.9" transform="rotate(-1 79.2 15.3)" fill="#e4a8dd" stroke="#b05cbd" stroke-width="1.4"/>
<ellipse cx="79.2" cy="15.3" rx="0.5" ry="1.8" transform="rotate(-1 79.2 15.3)" fill="#f0cfea"/>
<ellipse cx="65.1" cy="25.2" rx="1.7" ry="5.7" transform="rotate(6 65.1 25.2)" fill="#e4a8dd" stroke="#b05cbd" stroke-width="1.4"/>
<ellipse cx="65.1" cy="25.2" rx="0.5" ry="2.0" transform="rotate(6 65.1 25.2)" fill="#f0cfea"/>
<ellipse cx="35.0" cy="21.9" rx="1.7" ry="4.1" transform="rotate(12 35.0 21.9)" fill="#e4a8dd" stroke="#b05cbd" stroke-width="1.4"/>
<ellipse cx="28.8" cy="19.0" rx="1.8" ry="6.3" transform="rotate(14 28.8 19.0)" fill="#e4a8dd" stroke="#b05cbd" stroke-width="1.4"/>
<ellipse cx="28.8" cy="19.0" rx="0.5" ry="2.3" transform="rotate(14 28.8 19.0)" fill="#f0cfea"/>
<ellipse cx="-1.8" cy="19.0" rx="2.1" ry="5.3" transform="rotate(12 -1.8 19.0)" fill="#e4a8dd" stroke="#b05cbd" stroke-width="1.4"/>
<ellipse cx="-1.8" cy="19.0" rx="0.6" ry="1.9" transform="rotate(12 -1.8 19.0)" fill="#f0cfea"/>
<ellipse cx="-1.2" cy="25.0" rx="1.9" ry="5.0" transform="rotate(6 -1.2 25.0)" fill="#e4a8dd" stroke="#b05cbd" stroke-width="1.4"/>
<ellipse cx="-1.2" cy="25.0" rx="0.5" ry="1.8" transform="rotate(6 -1.2 25.0)" fill="#f0cfea"/>
<ellipse cx="15.9" cy="16.4" rx="1.7" ry="5.3" transform="rotate(7 15.9 16.4)" fill="#e4a8dd" stroke="#b05cbd" stroke-width="1.4"/>
<ellipse cx="15.9" cy="16.4" rx="0.5" ry="1.9" transform="rotate(7 15.9 16.4)" fill="#f0cfea"/>
<ellipse cx="73.9" cy="10.4" rx="1.5" ry="4.5" transform="rotate(8 73.9 10.4)" fill="#e4a8dd" stroke="#b05cbd" stroke-width="1.4"/>
<ellipse cx="22.1" cy="46.1" rx="3.1" ry="3.3" transform="rotate(-59 22.1 46.1)" fill="#e4a8dd" stroke="#b05cbd" stroke-width="1.4"/>
<ellipse cx="22.1" cy="46.1" rx="0.9" ry="1.2" transform="rotate(-59 22.1 46.1)" fill="#f0cfea"/>
<ellipse cx="1.7" cy="41.8" rx="3.8" ry="3.9" transform="rotate(-21 1.7 41.8)" fill="#e4a8dd" stroke="#b05cbd" stroke-width="1.4"/>
<ellipse cx="1.7" cy="41.8" rx="1.1" ry="1.4" transform="rotate(-21 1.7 41.8)" fill="#f0cfea"/>
<ellipse cx="29.7" cy="33.8" rx="3.8" ry="4.6" transform="rotate(-37 29.7 33.8)" fill="#e4a8dd" stroke="#b05cbd" stroke-width="1.4"/>
<ellipse cx="29.7" cy="33.8" rx="1.1" ry="1.7" transform="rotate(-37 29.7 33.8)" fill="#f0cfea"/>
<ellipse cx="41.4" cy="46.4" rx="3.2" ry="4.6" transform="rotate(-28 41.4 46.4)" fill="#e4a8dd" stroke="#b05cbd" stroke-width="1.4"/>
<ellipse cx="41.4" cy="46.4" rx="0.9" ry="1.7" transform="rotate(-28 41.4 46.4)" fill="#f0cfea"/>
<ellipse cx="49.4" cy="34.7" rx="3.2" ry="3.7" transform="rotate(-53 49.4 34.7)" fill="#e4a8dd" stroke="#b05cbd" stroke-width="1.4"/>
<ellipse cx="49.4" cy="34.7" rx="0.9" ry="1.3" transform="rotate(-53 49.4 34.7)" fill="#f0cfea"/>
<ellipse cx="56.5" cy="32.4" rx="2.4" ry="2.6" transform="rotate(-47 56.5 32.4)" fill="#e4a8dd" stroke="#b05cbd" stroke-width="1.4"/>
<ellipse cx="23.0" cy="38.5" rx="2.7" ry="3.5" transform="rotate(43 23.0 38.5)" fill="#e4a8dd" stroke="#b05cbd" stroke-width="1.4"/>
<ellipse cx="23.0" cy="38.5" rx="0.8" ry="1.3" transform="rotate(43 23.0 38.5)" fill="#f0cfea"/>
<ellipse cx="54.6" cy="44.7" rx="2.8" ry="3.1" transform="rotate(-57 54.6 44.7)" fill="#e4a8dd" stroke="#b05cbd" stroke-width="1.4"/>
<ellipse cx="54.6" cy="44.7" rx="0.8" ry="1.1" transform="rotate(-57 54.6 44.7)" fill="#f0cfea"/>
<ellipse cx="62.5" cy="32.6" rx="3.0" ry="4.9" transform="rotate(-12 62.5 32.6)" fill="#e4a8dd" stroke="#b05cbd" stroke-width="1.4"/>
<ellipse cx="62.5" cy="32.6" rx="0.8" ry="1.8" transform="rotate(-12 62.5 32.6)" fill="#f0cfea"/>
<ellipse cx="38.0" cy="34.5" rx="3.3" ry="5.0" transform="rotate(57 38.0 34.5)" fill="#e4a8dd" stroke="#b05cbd" stroke-width="1.4"/>
<ellipse cx="38.0" cy="34.5" rx="0.9" ry="1.8" transform="rotate(57 38.0 34.5)" fill="#f0cfea"/>
<ellipse cx="17.0" cy="42.2" rx="3.5" ry="3.8" transform="rotate(-18 17.0 42.2)" fill="#e4a8dd" stroke="#b05cbd" stroke-width="1.4"/>
<ellipse cx="17.0" cy="42.2" rx="1.0" ry="1.4" transform="rotate(-18 17.0 42.2)" fill="#f0cfea"/>
<ellipse cx="27.7" cy="49.6" rx="3.2" ry="4.6" transform="rotate(-21 27.7 49.6)" fill="#e4a8dd" stroke="#b05cbd" stroke-width="1.4"/>
<ellipse cx="27.7" cy="49.6" rx="0.9" ry="1.7" transform="rotate(-21 27.7 49.6)" fill="#f0cfea"/>
<ellipse cx="60.1" cy="48.2" rx="3.8" ry="4.5" transform="rotate(49 60.1 48.2)" fill="#e4a8dd" stroke="#b05cbd" stroke-width="1.4"/>
<ellipse cx="60.1" cy="48.2" rx="1.1" ry="1.6" transform="rotate(49 60.1 48.2)" fill="#f0cfea"/>
<ellipse cx="76.0" cy="40.1" rx="3.6" ry="4.8" transform="rotate(46 76.0 40.1)" fill="#e4a8dd" stroke="#b05cbd" stroke-width="1.4"/>
<ellipse cx="76.0" cy="40.1" rx="1.0" ry="1.7" transform="rotate(46 76.0 40.1)" fill="#f0cfea"/>
<ellipse cx="11.5" cy="33.5" rx="2.9" ry="4.1" transform="rotate(-46 11.5 33.5)" fill="#e4a8dd" stroke="#b05cbd" stroke-width="1.4"/>
<ellipse cx="11.5" cy="33.5" rx="0.8" ry="1.5" transform="rotate(-46 11.5 33.5)" fill="#f0cfea"/>
<ellipse cx="17.4" cy="34.6" rx="2.2" ry="3.1" transform="rotate(12 17.4 34.6)" fill="#e4a8dd" stroke="#b05cbd" stroke-width="1.4"/>
<ellipse cx="64.8" cy="43.8" rx="2.1" ry="3.5" transform="rotate(58 64.8 43.8)" fill="#e4a8dd" stroke="#b05cbd" stroke-width="1.4"/>
<ellipse cx="78.0" cy="49.7" rx="3.1" ry="3.2" transform="rotate(60 78.0 49.7)" fill="#e4a8dd" stroke="#b05cbd" stroke-width="1.4"/>
<ellipse cx="78.0" cy="49.7" rx="0.9" ry="1.1" transform="rotate(60 78.0 49.7)" fill="#f0cfea"/>
<ellipse cx="-0.3" cy="30.8" rx="2.1" ry="3.1" transform="rotate(-34 -0.3 30.8)" fill="#e4a8dd" stroke="#b05cbd" stroke-width="1.4"/>
<ellipse cx="10.7" cy="41.1" rx="2.3" ry="3.3" transform="rotate(19 10.7 41.1)" fill="#e4a8dd" stroke="#b05cbd" stroke-width="1.4"/>
<ellipse cx="47.7" cy="49.4" rx="1.9" ry="3.2" transform="rotate(18 47.7 49.4)" fill="#e4a8dd" stroke="#b05cbd" stroke-width="1.4"/>
<ellipse cx="43.3" cy="38.3" rx="2.3" ry="3.1" transform="rotate(-23 43.3 38.3)" fill="#e4a8dd" stroke="#b05cbd" stroke-width="1.4"/>
<ellipse cx="34.3" cy="43.7" rx="3.8" ry="4.6" transform="rotate(-47 34.3 43.7)" fill="#e4a8dd" stroke="#b05cbd" stroke-width="1.4"/>
<ellipse cx="34.3" cy="43.7" rx="1.1" ry="1.7" transform="rotate(-47 34.3 43.7)" fill="#f0cfea"/>
<ellipse cx="77.8" cy="30.9" rx="2.7" ry="2.8" transform="rotate(43 77.8 30.9)" fill="#e4a8dd" stroke="#b05cbd" stroke-width="1.4"/>
<ellipse cx="10.5" cy="48.8" rx="2.8" ry="3.1" transform="rotate(9 10.5 48.8)" fill="#e4a8dd" stroke="#b05cbd" stroke-width="1.4"/>
<ellipse cx="10.5" cy="48.8" rx="0.8" ry="1.1" transform="rotate(9 10.5 48.8)" fill="#f0cfea"/>
<ellipse cx="5.1" cy="31.5" rx="2.6" ry="3.1" transform="rotate(47 5.1 31.5)" fill="#e4a8dd" stroke="#b05cbd" stroke-width="1.4"/>
<ellipse cx="61.0" cy="40.6" rx="2.3" ry="2.7" transform="rotate(18 61.0 40.6)" fill="#e4a8dd" stroke="#b05cbd" stroke-width="1.4"/>
<ellipse cx="69.7" cy="31.8" rx="3.3" ry="4.1" transform="rotate(27 69.7 31.8)" fill="#e4a8dd" stroke="#b05cbd" stroke-width="1.4"/>
<ellipse cx="69.7" cy="31.8" rx="0.9" ry="1.5" transform="rotate(27 69.7 31.8)" fill="#f0cfea"/>
<ellipse cx="67.0" cy="49.1" rx="3.2" ry="3.6" transform="rotate(60 67.0 49.1)" fill="#e4a8dd" stroke="#b05cbd" stroke-width="1.4"/>
<ellipse cx="67.0" cy="49.1" rx="0.9" ry="1.3" transform="rotate(60 67.0 49.1)" fill="#f0cfea"/>
<ellipse cx="68.1" cy="40.7" rx="2.1" ry="2.8" transform="rotate(-22 68.1 40.7)" fill="#e4a8dd" stroke="#b05cbd" stroke-width="1.4"/>
<ellipse cx="3.0" cy="49.2" rx="2.4" ry="3.2" transform="rotate(4 3.0 49.2)" fill="#e4a8dd" stroke="#b05cbd" stroke-width="1.4"/>
<ellipse cx="73.5" cy="46.4" rx="2.1" ry="2.7" transform="rotate(25 73.5 46.4)" fill="#e4a8dd" stroke="#b05cbd" stroke-width="1.4"/>
<ellipse cx="-1.7" cy="35.8" rx="2.1" ry="3.0" transform="rotate(-21 -1.7 35.8)" fill="#e4a8dd" stroke="#b05cbd" stroke-width="1.4"/>
<ellipse cx="53.3" cy="38.5" rx="2.5" ry="2.6" transform="rotate(-9 53.3 38.5)" fill="#e4a8dd" stroke="#b05cbd" stroke-width="1.4"/>
<ellipse cx="47.0" cy="41.3" rx="2.6" ry="2.8" transform="rotate(2 47.0 41.3)" fill="#e4a8dd" stroke="#b05cbd" stroke-width="1.4"/>
<ellipse cx="22.9" cy="32.5" rx="2.2" ry="3.6" transform="rotate(6 22.9 32.5)" fill="#e4a8dd" stroke="#b05cbd" stroke-width="1.4"/>
<ellipse cx="43.9" cy="31.6" rx="2.0" ry="2.9" transform="rotate(2 43.9 31.6)" fill="#e4a8dd" stroke="#b05cbd" stroke-width="1.4"/>
<ellipse cx="15.4" cy="49.4" rx="2.1" ry="2.9" transform="rotate(33 15.4 49.4)" fill="#e4a8dd" stroke="#b05cbd" stroke-width="1.4"/>
<ellipse cx="6.0" cy="37.7" rx="1.9" ry="3.0" transform="rotate(28 6.0 37.7)" fill="#e4a8dd" stroke="#b05cbd" stroke-width="1.4"/>
<ellipse cx="-1.8" cy="47.3" rx="2.2" ry="3.6" transform="rotate(17 -1.8 47.3)" fill="#e4a8dd" stroke="#b05cbd" stroke-width="1.4"/>
<ellipse cx="27.4" cy="42.7" rx="2.3" ry="2.8" transform="rotate(-17 27.4 42.7)" fill="#e4a8dd" stroke="#b05cbd" stroke-width="1.4"/>
</g>
<rect x="-1" y="49.7" width="79.5" height="3.4" fill="#efbadf" filter="url(#hblur)"/>
</g></g>
<g clip-path="url(#hc02)"><g transform="translate(208.5 441.0)">
<rect x="-2" y="-2" width="81.5" height="73.0" fill="#e3a5d4" filter="url(#hpink)"/>
<g filter="url(#hdisp2)">
<polygon points="-6.0,-6.0 83.5,-6.0 83.5,45.5 46.5,49.7 27.1,55.2 -6.0,53.8" fill="#e6addf" />
<rect x="-6" y="-6" width="89.5" height="9.4" fill="#f3e4f2"/>
<path d="M0.4 42.6 Q2.2 22.2 4.8 1.9" fill="none" stroke="#b968c6" stroke-width="3.9660765268459683" stroke-linecap="round" />
<path d="M0.4 42.6 Q2.2 22.2 4.8 1.9" fill="none" stroke="#e2a6df" stroke-width="1.8106001535601157" stroke-linecap="round" />
<path d="M7.4 42.4 Q8.1 23.6 9.1 4.9" fill="none" stroke="#b968c6" stroke-width="4.409122226419845" stroke-linecap="round" />
<path d="M7.4 42.4 Q8.1 23.6 9.1 4.9" fill="none" stroke="#e2a6df" stroke-width="2.012860146843842" stroke-linecap="round" />
<path d="M15.3 43.1 Q16.6 23.1 18.5 3.1" fill="none" stroke="#b968c6" stroke-width="4.1676515812190456" stroke-linecap="round" />
<path d="M15.3 43.1 Q16.6 23.1 18.5 3.1" fill="none" stroke="#e2a6df" stroke-width="1.902623547947825" stroke-linecap="round" />
<path d="M22.8 43.6 Q25.0 21.2 28.5 -1.2" fill="none" stroke="#b968c6" stroke-width="4.160568117345635" stroke-linecap="round" />
<path d="M22.8 43.6 Q25.0 21.2 28.5 -1.2" fill="none" stroke="#e2a6df" stroke-width="1.899389792701268" stroke-linecap="round" />
<path d="M28.0 42.6 Q30.3 22.1 33.7 1.6" fill="none" stroke="#b968c6" stroke-width="4.018804557955602" stroke-linecap="round" />
<path d="M28.0 42.6 Q30.3 22.1 33.7 1.6" fill="none" stroke="#e2a6df" stroke-width="1.8346716460232093" stroke-linecap="round" />
<path d="M34.8 39.6 Q37.1 21.4 40.6 3.2" fill="none" stroke="#b968c6" stroke-width="4.481270575079316" stroke-linecap="round" />
<path d="M34.8 39.6 Q37.1 21.4 40.6 3.2" fill="none" stroke="#e2a6df" stroke-width="2.045797436449253" stroke-linecap="round" />
<path d="M41.9 39.1 Q44.2 22.3 47.8 5.5" fill="none" stroke="#b968c6" stroke-width="3.8863521099044314" stroke-linecap="round" />
<path d="M41.9 39.1 Q44.2 22.3 47.8 5.5" fill="none" stroke="#e2a6df" stroke-width="1.7742042240868054" stroke-linecap="round" />
<path d="M49.4 34.7 Q50.2 19.4 51.5 4.0" fill="none" stroke="#b968c6" stroke-width="4.450293384777304" stroke-linecap="round" />
<path d="M49.4 34.7 Q50.2 19.4 51.5 4.0" fill="none" stroke="#e2a6df" stroke-width="2.031655675659204" stroke-linecap="round" />
<path d="M56.2 36.8 Q57.0 20.3 58.3 3.9" fill="none" stroke="#b968c6" stroke-width="3.8944802887578294" stroke-linecap="round" />
<path d="M56.2 36.8 Q57.0 20.3 58.3 3.9" fill="none" stroke="#e2a6df" stroke-width="1.7779149144329218" stroke-linecap="round" />
<path d="M62.2 35.5 Q63.9 18.7 66.4 1.9" fill="none" stroke="#b968c6" stroke-width="4.479423487252394" stroke-linecap="round" />
<path d="M62.2 35.5 Q63.9 18.7 66.4 1.9" fill="none" stroke="#e2a6df" stroke-width="2.0449542007021795" stroke-linecap="round" />
<path d="M70.2 31.9 Q72.2 19.4 75.2 6.8" fill="none" stroke="#b968c6" stroke-width="4.089446466593239" stroke-linecap="round" />
<path d="M70.2 31.9 Q72.2 19.4 75.2 6.8" fill="none" stroke="#e2a6df" stroke-width="1.8669212130099568" stroke-linecap="round" />
<path d="M75.5 32.8 Q77.2 18.0 79.8 3.1" fill="none" stroke="#b968c6" stroke-width="3.932833518026428" stroke-linecap="round" />
<path d="M75.5 32.8 Q77.2 18.0 79.8 3.1" fill="none" stroke="#e2a6df" stroke-width="1.7954239973598909" stroke-linecap="round" />
<path d="M14.9 -2 L17.5 20.7" fill="none" stroke="#f3e4f2" stroke-width="1.5" stroke-linecap="round" />
<path d="M53.9 -2 L52.4 17.2" fill="none" stroke="#f3e4f2" stroke-width="1.5" stroke-linecap="round" />
<path d="M70.5 -2 L71.8 27.5" fill="none" stroke="#f3e4f2" stroke-width="1.5" stroke-linecap="round" />
<path d="M15.3 -2 L15.5 24.2" fill="none" stroke="#f3e4f2" stroke-width="1.5" stroke-linecap="round" />
<path d="M34.5 -2 L36.4 20.0" fill="none" stroke="#f3e4f2" stroke-width="1.5" stroke-linecap="round" />
<path d="M9.1 -2 L7.6 27.3" fill="none" stroke="#f3e4f2" stroke-width="1.5" stroke-linecap="round" />
<path d="M9.2 -2 L8.2 16.1" fill="none" stroke="#f3e4f2" stroke-width="1.5" stroke-linecap="round" />
<path d="M55.3 -2 L57.6 18.6" fill="none" stroke="#f3e4f2" stroke-width="1.5" stroke-linecap="round" />
<path d="M38.6 -2 L40.5 15.1" fill="none" stroke="#f3e4f2" stroke-width="1.5" stroke-linecap="round" />
<ellipse cx="28.4" cy="44.5" rx="2.1" ry="3.6" transform="rotate(26 28.4 44.5)" fill="#e4a8dd" stroke="#b05cbd" stroke-width="1.4"/>
<ellipse cx="9.2" cy="47.6" rx="2.3" ry="3.6" transform="rotate(6 9.2 47.6)" fill="#e4a8dd" stroke="#b05cbd" stroke-width="1.4"/>
<ellipse cx="18.8" cy="48.7" rx="2.7" ry="3.7" transform="rotate(-23 18.8 48.7)" fill="#e4a8dd" stroke="#b05cbd" stroke-width="1.4"/>
<ellipse cx="18.8" cy="48.7" rx="0.8" ry="1.3" transform="rotate(-23 18.8 48.7)" fill="#f0cfea"/>
<ellipse cx="13.8" cy="50.3" rx="1.8" ry="3.1" transform="rotate(-19 13.8 50.3)" fill="#e4a8dd" stroke="#b05cbd" stroke-width="1.4"/>
<ellipse cx="54.6" cy="42.1" rx="2.3" ry="4.0" transform="rotate(-17 54.6 42.1)" fill="#e4a8dd" stroke="#b05cbd" stroke-width="1.4"/>
<ellipse cx="54.6" cy="42.1" rx="0.6" ry="1.4" transform="rotate(-17 54.6 42.1)" fill="#f0cfea"/>
<ellipse cx="35.6" cy="47.4" rx="2.3" ry="2.8" transform="rotate(-14 35.6 47.4)" fill="#e4a8dd" stroke="#b05cbd" stroke-width="1.4"/>
<ellipse cx="64.3" cy="37.6" rx="2.4" ry="2.5" transform="rotate(-15 64.3 37.6)" fill="#e4a8dd" stroke="#b05cbd" stroke-width="1.4"/>
<ellipse cx="48.9" cy="40.8" rx="2.1" ry="3.2" transform="rotate(-12 48.9 40.8)" fill="#e4a8dd" stroke="#b05cbd" stroke-width="1.4"/>
<ellipse cx="74.2" cy="35.3" rx="1.7" ry="3.0" transform="rotate(17 74.2 35.3)" fill="#e4a8dd" stroke="#b05cbd" stroke-width="1.4"/>
<ellipse cx="0.8" cy="40.9" rx="2.2" ry="2.5" transform="rotate(17 0.8 40.9)" fill="#e4a8dd" stroke="#b05cbd" stroke-width="1.4"/>
<ellipse cx="5.8" cy="43.4" rx="2.2" ry="2.3" transform="rotate(-17 5.8 43.4)" fill="#e4a8dd" stroke="#b05cbd" stroke-width="1.4"/>
<ellipse cx="31.5" cy="50.3" rx="2.0" ry="2.6" transform="rotate(9 31.5 50.3)" fill="#e4a8dd" stroke="#b05cbd" stroke-width="1.4"/>
<ellipse cx="18.2" cy="41.2" rx="2.9" ry="3.5" transform="rotate(9 18.2 41.2)" fill="#e4a8dd" stroke="#b05cbd" stroke-width="1.4"/>
<ellipse cx="18.2" cy="41.2" rx="0.8" ry="1.3" transform="rotate(9 18.2 41.2)" fill="#f0cfea"/>
<ellipse cx="5.3" cy="51.3" rx="1.7" ry="2.5" transform="rotate(17 5.3 51.3)" fill="#e4a8dd" stroke="#b05cbd" stroke-width="1.4"/>
<ellipse cx="1.2" cy="47.8" rx="2.3" ry="2.8" transform="rotate(-8 1.2 47.8)" fill="#e4a8dd" stroke="#b05cbd" stroke-width="1.4"/>
<ellipse cx="72.2" cy="39.4" rx="2.0" ry="3.5" transform="rotate(-23 72.2 39.4)" fill="#e4a8dd" stroke="#b05cbd" stroke-width="1.4"/>
<ellipse cx="52.6" cy="37.1" rx="1.8" ry="2.8" transform="rotate(30 52.6 37.1)" fill="#e4a8dd" stroke="#b05cbd" stroke-width="1.4"/>
<ellipse cx="42.9" cy="43.9" rx="2.5" ry="3.4" transform="rotate(-9 42.9 43.9)" fill="#e4a8dd" stroke="#b05cbd" stroke-width="1.4"/>
<ellipse cx="42.9" cy="43.9" rx="0.7" ry="1.2" transform="rotate(-9 42.9 43.9)" fill="#f0cfea"/>
<ellipse cx="77.0" cy="40.7" rx="2.0" ry="3.5" transform="rotate(-3 77.0 40.7)" fill="#e4a8dd" stroke="#b05cbd" stroke-width="1.4"/>
<ellipse cx="68.9" cy="44.3" rx="3.0" ry="3.3" transform="rotate(28 68.9 44.3)" fill="#e4a8dd" stroke="#b05cbd" stroke-width="1.4"/>
<ellipse cx="68.9" cy="44.3" rx="0.8" ry="1.2" transform="rotate(28 68.9 44.3)" fill="#f0cfea"/>
<ellipse cx="23.9" cy="47.0" rx="2.1" ry="2.6" transform="rotate(15 23.9 47.0)" fill="#e4a8dd" stroke="#b05cbd" stroke-width="1.4"/>
<ellipse cx="57.8" cy="36.9" rx="2.3" ry="3.6" transform="rotate(24 57.8 36.9)" fill="#e4a8dd" stroke="#b05cbd" stroke-width="1.4"/>
<ellipse cx="57.8" cy="36.9" rx="0.7" ry="1.3" transform="rotate(24 57.8 36.9)" fill="#f0cfea"/>
<ellipse cx="33.9" cy="43.1" rx="1.6" ry="2.7" transform="rotate(26 33.9 43.1)" fill="#e4a8dd" stroke="#b05cbd" stroke-width="1.4"/>
<ellipse cx="61.3" cy="40.8" rx="1.6" ry="2.6" transform="rotate(-2 61.3 40.8)" fill="#e4a8dd" stroke="#b05cbd" stroke-width="1.4"/>
<ellipse cx="79.1" cy="36.0" rx="2.9" ry="3.1" transform="rotate(16 79.1 36.0)" fill="#e4a8dd" stroke="#b05cbd" stroke-width="1.4"/>
<ellipse cx="79.1" cy="36.0" rx="0.8" ry="1.1" transform="rotate(16 79.1 36.0)" fill="#f0cfea"/>
<ellipse cx="46.5" cy="46.6" rx="1.6" ry="2.6" transform="rotate(22 46.5 46.6)" fill="#e4a8dd" stroke="#b05cbd" stroke-width="1.4"/>
<ellipse cx="14.1" cy="45.2" rx="2.8" ry="3.0" transform="rotate(23 14.1 45.2)" fill="#e4a8dd" stroke="#b05cbd" stroke-width="1.4"/>
<ellipse cx="14.1" cy="45.2" rx="0.8" ry="1.1" transform="rotate(23 14.1 45.2)" fill="#f0cfea"/>
<ellipse cx="69.4" cy="34.5" rx="2.5" ry="3.4" transform="rotate(14 69.4 34.5)" fill="#e4a8dd" stroke="#b05cbd" stroke-width="1.4"/>
<ellipse cx="69.4" cy="34.5" rx="0.7" ry="1.2" transform="rotate(14 69.4 34.5)" fill="#f0cfea"/>
<ellipse cx="-1.9" cy="44.3" rx="2.1" ry="3.0" transform="rotate(20 -1.9 44.3)" fill="#e4a8dd" stroke="#b05cbd" stroke-width="1.4"/>
<ellipse cx="45.4" cy="37.0" rx="1.5" ry="2.7" transform="rotate(-10 45.4 37.0)" fill="#e4a8dd" stroke="#b05cbd" stroke-width="1.4"/>
<ellipse cx="24.9" cy="51.4" rx="1.9" ry="3.2" transform="rotate(2 24.9 51.4)" fill="#e4a8dd" stroke="#b05cbd" stroke-width="1.4"/>
<ellipse cx="38.1" cy="43.1" rx="2.4" ry="2.6" transform="rotate(11 38.1 43.1)" fill="#e4a8dd" stroke="#b05cbd" stroke-width="1.4"/>
<ellipse cx="23.2" cy="41.9" rx="2.1" ry="2.8" transform="rotate(-13 23.2 41.9)" fill="#e4a8dd" stroke="#b05cbd" stroke-width="1.4"/>
<ellipse cx="51.2" cy="46.1" rx="2.3" ry="2.7" transform="rotate(-24 51.2 46.1)" fill="#e4a8dd" stroke="#b05cbd" stroke-width="1.4"/>
<ellipse cx="38.8" cy="38.2" rx="2.1" ry="2.2" transform="rotate(24 38.8 38.2)" fill="#e4a8dd" stroke="#b05cbd" stroke-width="1.4"/>
<ellipse cx="73.8" cy="43.6" rx="1.7" ry="2.6" transform="rotate(5 73.8 43.6)" fill="#e4a8dd" stroke="#b05cbd" stroke-width="1.4"/>
<ellipse cx="9.2" cy="40.9" rx="1.9" ry="2.9" transform="rotate(13 9.2 40.9)" fill="#e4a8dd" stroke="#b05cbd" stroke-width="1.4"/>
<path d="M20.9 29.0 L22.5 49.7" fill="none" stroke="#a650b6" stroke-width="3.0" stroke-linecap="round" />
</g>
</g></g>
<g clip-path="url(#hc10)"><g transform="translate(54.0 510.0)">
<rect x="-2" y="-2" width="81.0" height="73.60000000000002" fill="#e3a5d4" filter="url(#hpink)"/>
<polygon points="-1.0,-1.0 78.0,-1.0 78.0,1.4 42.4,8.4 15.4,17.4 -1.0,23.7" fill="#e6dce6" />
<polygon points="-1.0,-1.0 46.2,-1.0 23.1,4.9 -1.0,7.7" fill="#ecc6e4" filter="url(#hblur)"/>
<g filter="url(#hdisp2)">
<polygon points="-6.0,23.0 15.4,16.0 38.5,9.0 61.6,2.8 83.0,-2.8 83.0,25.1 61.6,28.5 38.5,34.1 19.2,39.7 -6.0,45.2" fill="#dc96d5" />
<path d="M0.1 23.2 L-2.6 41.9" fill="none" stroke="#b564c2" stroke-width="3.2" stroke-linecap="round" />
<path d="M0.1 23.2 L-2.6 41.9" fill="none" stroke="#e6b0e1" stroke-width="1.1" stroke-linecap="round" />
<path d="M4.4 22.0 L1.5 40.9" fill="none" stroke="#b564c2" stroke-width="3.2" stroke-linecap="round" />
<path d="M4.4 22.0 L1.5 40.9" fill="none" stroke="#e6b0e1" stroke-width="1.1" stroke-linecap="round" />
<path d="M8.7 20.8 L5.6 39.9" fill="none" stroke="#b564c2" stroke-width="3.2" stroke-linecap="round" />
<path d="M8.7 20.8 L5.6 39.9" fill="none" stroke="#e6b0e1" stroke-width="1.1" stroke-linecap="round" />
<path d="M12.9 19.5 L11.1 38.9" fill="none" stroke="#b564c2" stroke-width="3.2" stroke-linecap="round" />
<path d="M12.9 19.5 L11.1 38.9" fill="none" stroke="#e6b0e1" stroke-width="1.1" stroke-linecap="round" />
<path d="M17.2 18.3 L14.8 37.9" fill="none" stroke="#b564c2" stroke-width="3.2" stroke-linecap="round" />
<path d="M17.2 18.3 L14.8 37.9" fill="none" stroke="#e6b0e1" stroke-width="1.1" stroke-linecap="round" />
<path d="M21.4 17.1 L19.3 36.9" fill="none" stroke="#b564c2" stroke-width="3.2" stroke-linecap="round" />
<path d="M21.4 17.1 L19.3 36.9" fill="none" stroke="#e6b0e1" stroke-width="1.1" stroke-linecap="round" />
<path d="M25.7 15.9 L23.3 35.9" fill="none" stroke="#b564c2" stroke-width="3.2" stroke-linecap="round" />
<path d="M25.7 15.9 L23.3 35.9" fill="none" stroke="#e6b0e1" stroke-width="1.1" stroke-linecap="round" />
<path d="M30.0 14.7 L27.3 34.9" fill="none" stroke="#b564c2" stroke-width="3.2" stroke-linecap="round" />
<path d="M30.0 14.7 L27.3 34.9" fill="none" stroke="#e6b0e1" stroke-width="1.1" stroke-linecap="round" />
<path d="M34.2 13.5 L32.1 33.9" fill="none" stroke="#b564c2" stroke-width="3.2" stroke-linecap="round" />
<path d="M34.2 13.5 L32.1 33.9" fill="none" stroke="#e6b0e1" stroke-width="1.1" stroke-linecap="round" />
<path d="M38.5 12.3 L36.1 33.0" fill="none" stroke="#b564c2" stroke-width="3.2" stroke-linecap="round" />
<path d="M38.5 12.3 L36.1 33.0" fill="none" stroke="#e6b0e1" stroke-width="1.1" stroke-linecap="round" />
<path d="M42.8 11.1 L40.7 32.0" fill="none" stroke="#b564c2" stroke-width="3.2" stroke-linecap="round" />
<path d="M42.8 11.1 L40.7 32.0" fill="none" stroke="#e6b0e1" stroke-width="1.1" stroke-linecap="round" />
<path d="M47.0 9.9 L44.8 31.0" fill="none" stroke="#b564c2" stroke-width="3.2" stroke-linecap="round" />
<path d="M47.0 9.9 L44.8 31.0" fill="none" stroke="#e6b0e1" stroke-width="1.1" stroke-linecap="round" />
<path d="M51.3 8.7 L49.3 30.0" fill="none" stroke="#b564c2" stroke-width="3.2" stroke-linecap="round" />
<path d="M51.3 8.7 L49.3 30.0" fill="none" stroke="#e6b0e1" stroke-width="1.1" stroke-linecap="round" />
<path d="M55.6 7.5 L53.0 29.0" fill="none" stroke="#b564c2" stroke-width="3.2" stroke-linecap="round" />
<path d="M55.6 7.5 L53.0 29.0" fill="none" stroke="#e6b0e1" stroke-width="1.1" stroke-linecap="round" />
<path d="M59.8 6.2 L56.8 28.0" fill="none" stroke="#b564c2" stroke-width="3.2" stroke-linecap="round" />
<path d="M59.8 6.2 L56.8 28.0" fill="none" stroke="#e6b0e1" stroke-width="1.1" stroke-linecap="round" />
<path d="M64.1 5.0 L61.0 27.0" fill="none" stroke="#b564c2" stroke-width="3.2" stroke-linecap="round" />
<path d="M64.1 5.0 L61.0 27.0" fill="none" stroke="#e6b0e1" stroke-width="1.1" stroke-linecap="round" />
<path d="M68.3 3.8 L66.2 26.0" fill="none" stroke="#b564c2" stroke-width="3.2" stroke-linecap="round" />
<path d="M68.3 3.8 L66.2 26.0" fill="none" stroke="#e6b0e1" stroke-width="1.1" stroke-linecap="round" />
<path d="M72.6 2.6 L69.6 25.0" fill="none" stroke="#b564c2" stroke-width="3.2" stroke-linecap="round" />
<path d="M72.6 2.6 L69.6 25.0" fill="none" stroke="#e6b0e1" stroke-width="1.1" stroke-linecap="round" />
<path d="M76.9 1.4 L74.6 24.1" fill="none" stroke="#b564c2" stroke-width="3.2" stroke-linecap="round" />
<path d="M76.9 1.4 L74.6 24.1" fill="none" stroke="#e6b0e1" stroke-width="1.1" stroke-linecap="round" />
</g>
<path d="M-1 45.9 Q23.1 43.8 38.5 37.6 T78.0 28.9" fill="none" stroke="#f8f1f7" stroke-width="2.2" stroke-linecap="round" filter="url(#hblur)"/>
<path d="M-1 51.5 Q19.2 50.1 38.5 42.8 T78.0 33.4" fill="none" stroke="#f5d3ea" stroke-width="1.8" stroke-linecap="round" filter="url(#hblur)"/>
<path d="M-1 48.7 Q20.8 47.0 38.5 40.4 T78.0 31.3" fill="none" stroke="#eaa6d4" stroke-width="1.6" stroke-linecap="round" filter="url(#hblur)"/>
</g></g>
<g clip-path="url(#hc11)"><g transform="translate(131.0 510.0)">
<rect x="-2" y="-2" width="81.5" height="73.60000000000002" fill="#e3a5d4" filter="url(#hpink)"/>
<g filter="url(#hdisp2)">
<polygon points="-6.0,-6.0 83.5,-6.0 83.5,41.8 65.9,41.8 54.2,47.3 38.8,55.7 19.4,59.9 -6.0,62.6" fill="#e0a0da" />
<polygon points="9.3,-6.0 55.8,-6.0 46.5,9.7 24.8,16.7 10.9,11.1" fill="#ecbfe4" />
<ellipse cx="76.1" cy="8.8" rx="1.9" ry="3.4" transform="rotate(13 76.1 8.8)" fill="#e4a8dd" stroke="#b05cbd" stroke-width="1.4"/>
<ellipse cx="51.1" cy="21.7" rx="3.0" ry="5.6" transform="rotate(50 51.1 21.7)" fill="#e4a8dd" stroke="#b05cbd" stroke-width="1.4"/>
<ellipse cx="51.1" cy="21.7" rx="0.8" ry="2.0" transform="rotate(50 51.1 21.7)" fill="#f0cfea"/>
<ellipse cx="24.0" cy="37.7" rx="3.9" ry="4.5" transform="rotate(8 24.0 37.7)" fill="#e4a8dd" stroke="#b05cbd" stroke-width="1.4"/>
<ellipse cx="24.0" cy="37.7" rx="1.1" ry="1.6" transform="rotate(8 24.0 37.7)" fill="#f0cfea"/>
<ellipse cx="55.7" cy="3.0" rx="2.9" ry="5.7" transform="rotate(8 55.7 3.0)" fill="#e4a8dd" stroke="#b05cbd" stroke-width="1.4"/>
<ellipse cx="55.7" cy="3.0" rx="0.8" ry="2.0" transform="rotate(8 55.7 3.0)" fill="#f0cfea"/>
<ellipse cx="67.3" cy="36.5" rx="3.9" ry="4.5" transform="rotate(3 67.3 36.5)" fill="#e4a8dd" stroke="#b05cbd" stroke-width="1.4"/>
<ellipse cx="67.3" cy="36.5" rx="1.1" ry="1.6" transform="rotate(3 67.3 36.5)" fill="#f0cfea"/>
<ellipse cx="44.2" cy="43.7" rx="2.7" ry="4.8" transform="rotate(-5 44.2 43.7)" fill="#e4a8dd" stroke="#b05cbd" stroke-width="1.4"/>
<ellipse cx="44.2" cy="43.7" rx="0.8" ry="1.7" transform="rotate(-5 44.2 43.7)" fill="#f0cfea"/>
<ellipse cx="23.5" cy="48.9" rx="3.1" ry="5.7" transform="rotate(-4 23.5 48.9)" fill="#e4a8dd" stroke="#b05cbd" stroke-width="1.4"/>
<ellipse cx="23.5" cy="48.9" rx="0.9" ry="2.0" transform="rotate(-4 23.5 48.9)" fill="#f0cfea"/>
<ellipse cx="51.0" cy="8.9" rx="3.2" ry="5.0" transform="rotate(7 51.0 8.9)" fill="#e4a8dd" stroke="#b05cbd" stroke-width="1.4"/>
<ellipse cx="51.0" cy="8.9" rx="0.9" ry="1.8" transform="rotate(7 51.0 8.9)" fill="#f0cfea"/>
<ellipse cx="73.4" cy="31.7" rx="3.1" ry="3.8" transform="rotate(5 73.4 31.7)" fill="#e4a8dd" stroke="#b05cbd" stroke-width="1.4"/>
<ellipse cx="73.4" cy="31.7" rx="0.9" ry="1.4" transform="rotate(5 73.4 31.7)" fill="#f0cfea"/>
<ellipse cx="31.4" cy="41.4" rx="3.0" ry="5.7" transform="rotate(2 31.4 41.4)" fill="#e4a8dd" stroke="#b05cbd" stroke-width="1.4"/>
<ellipse cx="31.4" cy="41.4" rx="0.8" ry="2.1" transform="rotate(2 31.4 41.4)" fill="#f0cfea"/>
<ellipse cx="23.0" cy="23.4" rx="2.5" ry="5.1" transform="rotate(19 23.0 23.4)" fill="#e4a8dd" stroke="#b05cbd" stroke-width="1.4"/>
<ellipse cx="23.0" cy="23.4" rx="0.7" ry="1.8" transform="rotate(19 23.0 23.4)" fill="#f0cfea"/>
<ellipse cx="39.7" cy="25.1" rx="1.8" ry="4.0" transform="rotate(9 39.7 25.1)" fill="#e4a8dd" stroke="#b05cbd" stroke-width="1.4"/>
<ellipse cx="71.0" cy="10.7" rx="2.6" ry="4.7" transform="rotate(1 71.0 10.7)" fill="#e4a8dd" stroke="#b05cbd" stroke-width="1.4"/>
<ellipse cx="71.0" cy="10.7" rx="0.7" ry="1.7" transform="rotate(1 71.0 10.7)" fill="#f0cfea"/>
<ellipse cx="14.4" cy="43.5" rx="1.9" ry="3.5" transform="rotate(13 14.4 43.5)" fill="#e4a8dd" stroke="#b05cbd" stroke-width="1.4"/>
<ellipse cx="31.5" cy="51.9" rx="3.1" ry="5.6" transform="rotate(8 31.5 51.9)" fill="#e4a8dd" stroke="#b05cbd" stroke-width="1.4"/>
<ellipse cx="31.5" cy="51.9" rx="0.9" ry="2.0" transform="rotate(8 31.5 51.9)" fill="#f0cfea"/>
<ellipse cx="38.6" cy="32.8" rx="2.6" ry="4.8" transform="rotate(34 38.6 32.8)" fill="#e4a8dd" stroke="#b05cbd" stroke-width="1.4"/>
<ellipse cx="38.6" cy="32.8" rx="0.7" ry="1.7" transform="rotate(34 38.6 32.8)" fill="#f0cfea"/>
<ellipse cx="-0.5" cy="31.3" rx="3.2" ry="4.2" transform="rotate(14 -0.5 31.3)" fill="#e4a8dd" stroke="#b05cbd" stroke-width="1.4"/>
<ellipse cx="-0.5" cy="31.3" rx="0.9" ry="1.5" transform="rotate(14 -0.5 31.3)" fill="#f0cfea"/>
<ellipse cx="15.6" cy="16.0" rx="3.3" ry="5.0" transform="rotate(21 15.6 16.0)" fill="#e4a8dd" stroke="#b05cbd" stroke-width="1.4"/>
<ellipse cx="15.6" cy="16.0" rx="0.9" ry="1.8" transform="rotate(21 15.6 16.0)" fill="#f0cfea"/>
<ellipse cx="36.3" cy="13.0" rx="2.3" ry="4.3" transform="rotate(14 36.3 13.0)" fill="#e4a8dd" stroke="#b05cbd" stroke-width="1.4"/>
<ellipse cx="36.3" cy="13.0" rx="0.6" ry="1.5" transform="rotate(14 36.3 13.0)" fill="#f0cfea"/>
<ellipse cx="66.0" cy="2.4" rx="2.4" ry="4.3" transform="rotate(37 66.0 2.4)" fill="#e4a8dd" stroke="#b05cbd" stroke-width="1.4"/>
<ellipse cx="66.0" cy="2.4" rx="0.7" ry="1.5" transform="rotate(37 66.0 2.4)" fill="#f0cfea"/>
<ellipse cx="56.5" cy="29.1" rx="2.1" ry="4.1" transform="rotate(49 56.5 29.1)" fill="#e4a8dd" stroke="#b05cbd" stroke-width="1.4"/>
<ellipse cx="56.5" cy="29.1" rx="0.6" ry="1.5" transform="rotate(49 56.5 29.1)" fill="#f0cfea"/>
<ellipse cx="17.0" cy="33.5" rx="2.3" ry="3.3" transform="rotate(49 17.0 33.5)" fill="#e4a8dd" stroke="#b05cbd" stroke-width="1.4"/>
<ellipse cx="-1.3" cy="23.8" rx="3.1" ry="4.3" transform="rotate(9 -1.3 23.8)" fill="#e4a8dd" stroke="#b05cbd" stroke-width="1.4"/>
<ellipse cx="-1.3" cy="23.8" rx="0.9" ry="1.6" transform="rotate(9 -1.3 23.8)" fill="#f0cfea"/>
<ellipse cx="12.3" cy="50.3" rx="3.6" ry="4.6" transform="rotate(41 12.3 50.3)" fill="#e4a8dd" stroke="#b05cbd" stroke-width="1.4"/>
<ellipse cx="12.3" cy="50.3" rx="1.0" ry="1.7" transform="rotate(41 12.3 50.3)" fill="#f0cfea"/>
<ellipse cx="11.2" cy="3.2" rx="2.7" ry="3.7" transform="rotate(21 11.2 3.2)" fill="#e4a8dd" stroke="#b05cbd" stroke-width="1.4"/>
<ellipse cx="11.2" cy="3.2" rx="0.8" ry="1.3" transform="rotate(21 11.2 3.2)" fill="#f0cfea"/>
<ellipse cx="10.5" cy="34.9" rx="2.9" ry="5.7" transform="rotate(34 10.5 34.9)" fill="#e4a8dd" stroke="#b05cbd" stroke-width="1.4"/>
<ellipse cx="10.5" cy="34.9" rx="0.8" ry="2.1" transform="rotate(34 10.5 34.9)" fill="#f0cfea"/>
<ellipse cx="46.8" cy="33.0" rx="3.3" ry="4.6" transform="rotate(38 46.8 33.0)" fill="#e4a8dd" stroke="#b05cbd" stroke-width="1.4"/>
<ellipse cx="46.8" cy="33.0" rx="0.9" ry="1.7" transform="rotate(38 46.8 33.0)" fill="#f0cfea"/>
<ellipse cx="73.5" cy="18.7" rx="2.4" ry="2.7" transform="rotate(23 73.5 18.7)" fill="#e4a8dd" stroke="#b05cbd" stroke-width="1.4"/>
<ellipse cx="34.3" cy="20.8" rx="2.1" ry="3.7" transform="rotate(-7 34.3 20.8)" fill="#e4a8dd" stroke="#b05cbd" stroke-width="1.4"/>
<ellipse cx="64.3" cy="19.2" rx="2.6" ry="4.6" transform="rotate(18 64.3 19.2)" fill="#e4a8dd" stroke="#b05cbd" stroke-width="1.4"/>
<ellipse cx="64.3" cy="19.2" rx="0.7" ry="1.7" transform="rotate(18 64.3 19.2)" fill="#f0cfea"/>
<ellipse cx="8.4" cy="15.0" rx="2.3" ry="4.1" transform="rotate(17 8.4 15.0)" fill="#e4a8dd" stroke="#b05cbd" stroke-width="1.4"/>
<ellipse cx="8.4" cy="15.0" rx="0.6" ry="1.5" transform="rotate(17 8.4 15.0)" fill="#f0cfea"/>
<ellipse cx="63.3" cy="31.6" rx="1.9" ry="3.6" transform="rotate(47 63.3 31.6)" fill="#e4a8dd" stroke="#b05cbd" stroke-width="1.4"/>
<ellipse cx="2.0" cy="43.0" rx="3.4" ry="4.6" transform="rotate(0 2.0 43.0)" fill="#e4a8dd" stroke="#b05cbd" stroke-width="1.4"/>
<ellipse cx="2.0" cy="43.0" rx="1.0" ry="1.6" transform="rotate(0 2.0 43.0)" fill="#f0cfea"/>
<ellipse cx="-1.2" cy="5.1" rx="1.9" ry="4.0" transform="rotate(2 -1.2 5.1)" fill="#e4a8dd" stroke="#b05cbd" stroke-width="1.4"/>
<ellipse cx="-0.3" cy="57.7" rx="2.7" ry="4.7" transform="rotate(8 -0.3 57.7)" fill="#e4a8dd" stroke="#b05cbd" stroke-width="1.4"/>
<ellipse cx="-0.3" cy="57.7" rx="0.7" ry="1.7" transform="rotate(8 -0.3 57.7)" fill="#f0cfea"/>
<ellipse cx="45.3" cy="14.3" rx="2.8" ry="3.7" transform="rotate(12 45.3 14.3)" fill="#e4a8dd" stroke="#b05cbd" stroke-width="1.4"/>
<ellipse cx="45.3" cy="14.3" rx="0.8" ry="1.3" transform="rotate(12 45.3 14.3)" fill="#f0cfea"/>
<ellipse cx="6.2" cy="23.2" rx="3.1" ry="3.6" transform="rotate(5 6.2 23.2)" fill="#e4a8dd" stroke="#b05cbd" stroke-width="1.4"/>
<ellipse cx="6.2" cy="23.2" rx="0.9" ry="1.3" transform="rotate(5 6.2 23.2)" fill="#f0cfea"/>
<ellipse cx="54.8" cy="36.2" rx="2.6" ry="3.3" transform="rotate(6 54.8 36.2)" fill="#e4a8dd" stroke="#b05cbd" stroke-width="1.4"/>
<ellipse cx="54.8" cy="36.2" rx="0.7" ry="1.2" transform="rotate(6 54.8 36.2)" fill="#f0cfea"/>
<ellipse cx="57.7" cy="14.5" rx="3.7" ry="4.2" transform="rotate(31 57.7 14.5)" fill="#e4a8dd" stroke="#b05cbd" stroke-width="1.4"/>
<ellipse cx="57.7" cy="14.5" rx="1.0" ry="1.5" transform="rotate(31 57.7 14.5)" fill="#f0cfea"/>
<ellipse cx="57.7" cy="23.0" rx="2.4" ry="2.9" transform="rotate(6 57.7 23.0)" fill="#e4a8dd" stroke="#b05cbd" stroke-width="1.4"/>
<ellipse cx="26.1" cy="16.1" rx="2.4" ry="3.1" transform="rotate(8 26.1 16.1)" fill="#e4a8dd" stroke="#b05cbd" stroke-width="1.4"/>
<ellipse cx="1.6" cy="9.9" rx="2.1" ry="3.2" transform="rotate(31 1.6 9.9)" fill="#e4a8dd" stroke="#b05cbd" stroke-width="1.4"/>
<ellipse cx="69.1" cy="24.5" rx="2.7" ry="3.3" transform="rotate(-8 69.1 24.5)" fill="#e4a8dd" stroke="#b05cbd" stroke-width="1.4"/>
<ellipse cx="69.1" cy="24.5" rx="0.7" ry="1.2" transform="rotate(-8 69.1 24.5)" fill="#f0cfea"/>
<ellipse cx="44.5" cy="23.0" rx="2.2" ry="2.9" transform="rotate(43 44.5 23.0)" fill="#e4a8dd" stroke="#b05cbd" stroke-width="1.4"/>
<ellipse cx="31.0" cy="29.2" rx="1.8" ry="3.7" transform="rotate(2 31.0 29.2)" fill="#e4a8dd" stroke="#b05cbd" stroke-width="1.4"/>
<ellipse cx="61.9" cy="8.1" rx="1.8" ry="3.9" transform="rotate(33 61.9 8.1)" fill="#e4a8dd" stroke="#b05cbd" stroke-width="1.4"/>
<ellipse cx="28.8" cy="25.0" rx="2.3" ry="3.1" transform="rotate(9 28.8 25.0)" fill="#e4a8dd" stroke="#b05cbd" stroke-width="1.4"/>
<ellipse cx="37.4" cy="50.0" rx="1.9" ry="3.5" transform="rotate(17 37.4 50.0)" fill="#e4a8dd" stroke="#b05cbd" stroke-width="1.4"/>
<ellipse cx="14.3" cy="26.9" rx="2.9" ry="3.9" transform="rotate(11 14.3 26.9)" fill="#e4a8dd" stroke="#b05cbd" stroke-width="1.4"/>
<ellipse cx="14.3" cy="26.9" rx="0.8" ry="1.4" transform="rotate(11 14.3 26.9)" fill="#f0cfea"/>
<ellipse cx="78.4" cy="27.7" rx="3.2" ry="3.6" transform="rotate(33 78.4 27.7)" fill="#e4a8dd" stroke="#b05cbd" stroke-width="1.4"/>
<ellipse cx="78.4" cy="27.7" rx="0.9" ry="1.3" transform="rotate(33 78.4 27.7)" fill="#f0cfea"/>
<ellipse cx="0.3" cy="17.8" rx="1.9" ry="3.9" transform="rotate(37 0.3 17.8)" fill="#e4a8dd" stroke="#b05cbd" stroke-width="1.4"/>
<ellipse cx="50.5" cy="41.1" rx="2.5" ry="3.3" transform="rotate(19 50.5 41.1)" fill="#e4a8dd" stroke="#b05cbd" stroke-width="1.4"/>
<ellipse cx="50.5" cy="41.1" rx="0.7" ry="1.2" transform="rotate(19 50.5 41.1)" fill="#f0cfea"/>
<ellipse cx="16.7" cy="55.0" rx="2.3" ry="2.8" transform="rotate(-1 16.7 55.0)" fill="#e4a8dd" stroke="#b05cbd" stroke-width="1.4"/>
<ellipse cx="79.0" cy="0.2" rx="2.9" ry="4.4" transform="rotate(21 79.0 0.2)" fill="#e4a8dd" stroke="#b05cbd" stroke-width="1.4"/>
<ellipse cx="79.0" cy="0.2" rx="0.8" ry="1.6" transform="rotate(21 79.0 0.2)" fill="#f0cfea"/>
<ellipse cx="38.7" cy="39.9" rx="2.5" ry="4.5" transform="rotate(29 38.7 39.9)" fill="#e4a8dd" stroke="#b05cbd" stroke-width="1.4"/>
<ellipse cx="38.7" cy="39.9" rx="0.7" ry="1.6" transform="rotate(29 38.7 39.9)" fill="#f0cfea"/>
<ellipse cx="57.4" cy="40.4" rx="1.8" ry="3.7" transform="rotate(26 57.4 40.4)" fill="#e4a8dd" stroke="#b05cbd" stroke-width="1.4"/>
<ellipse cx="5.9" cy="48.6" rx="2.3" ry="2.7" transform="rotate(12 5.9 48.6)" fill="#e4a8dd" stroke="#b05cbd" stroke-width="1.4"/>
<ellipse cx="19.8" cy="28.4" rx="2.0" ry="3.4" transform="rotate(14 19.8 28.4)" fill="#e4a8dd" stroke="#b05cbd" stroke-width="1.4"/>
<ellipse cx="30.1" cy="35.3" rx="2.3" ry="2.8" transform="rotate(-8 30.1 35.3)" fill="#e4a8dd" stroke="#b05cbd" stroke-width="1.4"/>
<ellipse cx="10.2" cy="9.3" rx="2.4" ry="2.7" transform="rotate(42 10.2 9.3)" fill="#e4a8dd" stroke="#b05cbd" stroke-width="1.4"/>
<ellipse cx="-0.6" cy="50.7" rx="2.7" ry="4.2" transform="rotate(30 -0.6 50.7)" fill="#e4a8dd" stroke="#b05cbd" stroke-width="1.4"/>
<ellipse cx="-0.6" cy="50.7" rx="0.8" ry="1.5" transform="rotate(30 -0.6 50.7)" fill="#f0cfea"/>
<ellipse cx="12.0" cy="57.1" rx="2.4" ry="2.8" transform="rotate(3 12.0 57.1)" fill="#e4a8dd" stroke="#b05cbd" stroke-width="1.4"/>
<ellipse cx="20.1" cy="42.6" rx="2.0" ry="3.4" transform="rotate(9 20.1 42.6)" fill="#e4a8dd" stroke="#b05cbd" stroke-width="1.4"/>
<ellipse cx="77.3" cy="13.6" rx="1.9" ry="4.1" transform="rotate(22 77.3 13.6)" fill="#e4a8dd" stroke="#b05cbd" stroke-width="1.4"/>
<ellipse cx="24.4" cy="31.0" rx="1.8" ry="3.9" transform="rotate(23 24.4 31.0)" fill="#e4a8dd" stroke="#b05cbd" stroke-width="1.4"/>
<ellipse cx="79.3" cy="18.5" rx="2.2" ry="4.2" transform="rotate(-6 79.3 18.5)" fill="#e4a8dd" stroke="#b05cbd" stroke-width="1.4"/>
<ellipse cx="79.3" cy="18.5" rx="0.6" ry="1.5" transform="rotate(-6 79.3 18.5)" fill="#f0cfea"/>
<ellipse cx="65.8" cy="13.8" rx="2.0" ry="3.7" transform="rotate(38 65.8 13.8)" fill="#e4a8dd" stroke="#b05cbd" stroke-width="1.4"/>
<ellipse cx="72.3" cy="4.5" rx="2.4" ry="3.0" transform="rotate(16 72.3 4.5)" fill="#e4a8dd" stroke="#b05cbd" stroke-width="1.4"/>
<ellipse cx="10.9" cy="20.7" rx="1.8" ry="3.9" transform="rotate(7 10.9 20.7)" fill="#e4a8dd" stroke="#b05cbd" stroke-width="1.4"/>
<ellipse cx="5.5" cy="55.8" rx="2.2" ry="3.2" transform="rotate(41 5.5 55.8)" fill="#e4a8dd" stroke="#b05cbd" stroke-width="1.4"/>
<ellipse cx="9.4" cy="43.4" rx="2.5" ry="3.3" transform="rotate(-3 9.4 43.4)" fill="#e4a8dd" stroke="#b05cbd" stroke-width="1.4"/>
<ellipse cx="24.8" cy="11.6" rx="1.8" ry="3.7" transform="rotate(41 24.8 11.6)" fill="#e4a8dd" stroke="#b05cbd" stroke-width="1.4"/>
<ellipse cx="61.8" cy="26.6" rx="2.1" ry="3.8" transform="rotate(22 61.8 26.6)" fill="#e4a8dd" stroke="#b05cbd" stroke-width="1.4"/>
<ellipse cx="77.8" cy="35.9" rx="2.4" ry="2.8" transform="rotate(-1 77.8 35.9)" fill="#e4a8dd" stroke="#b05cbd" stroke-width="1.4"/>
<ellipse cx="4.1" cy="5.0" rx="2.5" ry="3.3" transform="rotate(38 4.1 5.0)" fill="#e4a8dd" stroke="#b05cbd" stroke-width="1.4"/>
<ellipse cx="1.5" cy="0.3" rx="2.3" ry="2.8" transform="rotate(26 1.5 0.3)" fill="#e4a8dd" stroke="#b05cbd" stroke-width="1.4"/>
<ellipse cx="30.3" cy="11.4" rx="2.4" ry="5.1" transform="rotate(-7 30.3 11.4)" fill="#e4a8dd" stroke="#b05cbd" stroke-width="1.4"/>
<ellipse cx="30.3" cy="11.4" rx="0.7" ry="1.8" transform="rotate(-7 30.3 11.4)" fill="#f0cfea"/>
<ellipse cx="6.2" cy="29.2" rx="2.4" ry="3.3" transform="rotate(44 6.2 29.2)" fill="#e4a8dd" stroke="#b05cbd" stroke-width="1.4"/>
<ellipse cx="48.4" cy="0.7" rx="2.9" ry="5.8" transform="rotate(2 48.4 0.7)" fill="#e4a8dd" stroke="#b05cbd" stroke-width="1.4"/>
<ellipse cx="48.4" cy="0.7" rx="0.8" ry="2.1" transform="rotate(2 48.4 0.7)" fill="#f0cfea"/>
<ellipse cx="17.0" cy="38.8" rx="2.2" ry="3.4" transform="rotate(2 17.0 38.8)" fill="#e4a8dd" stroke="#b05cbd" stroke-width="1.4"/>
<ellipse cx="60.2" cy="36.2" rx="2.0" ry="4.2" transform="rotate(30 60.2 36.2)" fill="#e4a8dd" stroke="#b05cbd" stroke-width="1.4"/>
<ellipse cx="35.9" cy="45.7" rx="2.4" ry="2.7" transform="rotate(47 35.9 45.7)" fill="#e4a8dd" stroke="#b05cbd" stroke-width="1.4"/>
</g>
<path d="M-1 63.0 L19.4 60.2 L38.8 56.0 L54.2 47.7 L65.9 42.1 L78.5 41.8" fill="none" stroke="#f6dcef" stroke-width="1.3" stroke-linecap="round" filter="url(#hblur)"/>
</g></g>
<g clip-path="url(#hc12)"><g transform="translate(208.5 510.0)">
<rect x="-2" y="-2" width="81.5" height="73.60000000000002" fill="#e3a5d4" filter="url(#hpink)"/>
<g filter="url(#hdisp3)">
<polygon points="-6.0,-6.0 83.5,-6.0 83.5,50.1 58.1,48.7 42.6,51.5 34.1,59.9 31.0,75.6 -6.0,75.6" fill="#df9ed9" />
<ellipse cx="42.7" cy="12.2" rx="3.8" ry="3.9" transform="rotate(-5 42.7 12.2)" fill="#e4a8dd" stroke="#a855b7" stroke-width="1.4"/>
<ellipse cx="42.7" cy="12.2" rx="1.1" ry="1.4" transform="rotate(-5 42.7 12.2)" fill="#f0cfea"/>
<ellipse cx="19.2" cy="40.2" rx="2.4" ry="3.8" transform="rotate(18 19.2 40.2)" fill="#e4a8dd" stroke="#a855b7" stroke-width="1.4"/>
<ellipse cx="19.2" cy="40.2" rx="0.7" ry="1.4" transform="rotate(18 19.2 40.2)" fill="#f0cfea"/>
<ellipse cx="7.6" cy="34.8" rx="2.9" ry="3.6" transform="rotate(33 7.6 34.8)" fill="#e4a8dd" stroke="#a855b7" stroke-width="1.4"/>
<ellipse cx="7.6" cy="34.8" rx="0.8" ry="1.3" transform="rotate(33 7.6 34.8)" fill="#f0cfea"/>
<ellipse cx="20.8" cy="8.5" rx="2.6" ry="3.4" transform="rotate(25 20.8 8.5)" fill="#e4a8dd" stroke="#a855b7" stroke-width="1.4"/>
<ellipse cx="20.8" cy="8.5" rx="0.7" ry="1.2" transform="rotate(25 20.8 8.5)" fill="#f0cfea"/>
<ellipse cx="33.5" cy="33.3" rx="3.4" ry="4.1" transform="rotate(-9 33.5 33.3)" fill="#e4a8dd" stroke="#a855b7" stroke-width="1.4"/>
<ellipse cx="33.5" cy="33.3" rx="0.9" ry="1.5" transform="rotate(-9 33.5 33.3)" fill="#f0cfea"/>
<ellipse cx="37.2" cy="43.9" rx="3.3" ry="4.7" transform="rotate(21 37.2 43.9)" fill="#e4a8dd" stroke="#a855b7" stroke-width="1.4"/>
<ellipse cx="37.2" cy="43.9" rx="0.9" ry="1.7" transform="rotate(21 37.2 43.9)" fill="#f0cfea"/>
<ellipse cx="16.2" cy="54.6" rx="2.9" ry="4.1" transform="rotate(-28 16.2 54.6)" fill="#e4a8dd" stroke="#a855b7" stroke-width="1.4"/>
<ellipse cx="16.2" cy="54.6" rx="0.8" ry="1.5" transform="rotate(-28 16.2 54.6)" fill="#f0cfea"/>
<ellipse cx="26.6" cy="48.3" rx="3.0" ry="3.8" transform="rotate(-15 26.6 48.3)" fill="#e4a8dd" stroke="#a855b7" stroke-width="1.4"/>
<ellipse cx="26.6" cy="48.3" rx="0.8" ry="1.4" transform="rotate(-15 26.6 48.3)" fill="#f0cfea"/>
<ellipse cx="7.1" cy="18.1" rx="3.2" ry="3.6" transform="rotate(-31 7.1 18.1)" fill="#e4a8dd" stroke="#a855b7" stroke-width="1.4"/>
<ellipse cx="7.1" cy="18.1" rx="0.9" ry="1.3" transform="rotate(-31 7.1 18.1)" fill="#f0cfea"/>
<ellipse cx="2.9" cy="9.4" rx="2.7" ry="4.0" transform="rotate(-29 2.9 9.4)" fill="#e4a8dd" stroke="#a855b7" stroke-width="1.4"/>
<ellipse cx="2.9" cy="9.4" rx="0.8" ry="1.4" transform="rotate(-29 2.9 9.4)" fill="#f0cfea"/>
<ellipse cx="26.7" cy="58.4" rx="3.1" ry="3.7" transform="rotate(-38 26.7 58.4)" fill="#e4a8dd" stroke="#a855b7" stroke-width="1.4"/>
<ellipse cx="26.7" cy="58.4" rx="0.9" ry="1.3" transform="rotate(-38 26.7 58.4)" fill="#f0cfea"/>
<ellipse cx="16.5" cy="25.0" rx="2.8" ry="4.0" transform="rotate(10 16.5 25.0)" fill="#e4a8dd" stroke="#a855b7" stroke-width="1.4"/>
<ellipse cx="16.5" cy="25.0" rx="0.8" ry="1.4" transform="rotate(10 16.5 25.0)" fill="#f0cfea"/>
<ellipse cx="3.4" cy="56.1" rx="4.0" ry="4.2" transform="rotate(36 3.4 56.1)" fill="#e4a8dd" stroke="#a855b7" stroke-width="1.4"/>
<ellipse cx="3.4" cy="56.1" rx="1.1" ry="1.5" transform="rotate(36 3.4 56.1)" fill="#f0cfea"/>
<ellipse cx="39.5" cy="21.9" rx="3.0" ry="4.8" transform="rotate(20 39.5 21.9)" fill="#e4a8dd" stroke="#a855b7" stroke-width="1.4"/>
<ellipse cx="39.5" cy="21.9" rx="0.8" ry="1.7" transform="rotate(20 39.5 21.9)" fill="#f0cfea"/>
<ellipse cx="24.5" cy="17.6" rx="3.1" ry="4.6" transform="rotate(16 24.5 17.6)" fill="#e4a8dd" stroke="#a855b7" stroke-width="1.4"/>
<ellipse cx="24.5" cy="17.6" rx="0.9" ry="1.7" transform="rotate(16 24.5 17.6)" fill="#f0cfea"/>
<ellipse cx="43.1" cy="34.8" rx="3.4" ry="3.4" transform="rotate(-18 43.1 34.8)" fill="#e4a8dd" stroke="#a855b7" stroke-width="1.4"/>
<ellipse cx="43.1" cy="34.8" rx="1.0" ry="1.2" transform="rotate(-18 43.1 34.8)" fill="#f0cfea"/>
<ellipse cx="6.4" cy="44.7" rx="2.7" ry="3.1" transform="rotate(-38 6.4 44.7)" fill="#e4a8dd" stroke="#a855b7" stroke-width="1.4"/>
<ellipse cx="6.4" cy="44.7" rx="0.8" ry="1.1" transform="rotate(-38 6.4 44.7)" fill="#f0cfea"/>
<ellipse cx="15.6" cy="65.0" rx="3.6" ry="4.9" transform="rotate(7 15.6 65.0)" fill="#e4a8dd" stroke="#a855b7" stroke-width="1.4"/>
<ellipse cx="15.6" cy="65.0" rx="1.0" ry="1.8" transform="rotate(7 15.6 65.0)" fill="#f0cfea"/>
<ellipse cx="34.0" cy="7.1" rx="3.1" ry="3.8" transform="rotate(20 34.0 7.1)" fill="#e4a8dd" stroke="#a855b7" stroke-width="1.4"/>
<ellipse cx="34.0" cy="7.1" rx="0.9" ry="1.4" transform="rotate(20 34.0 7.1)" fill="#f0cfea"/>
<ellipse cx="55.4" cy="16.9" rx="1.3" ry="5.5" transform="rotate(-5 55.4 16.9)" fill="#e4a8dd" stroke="#b05cbd" stroke-width="1.4"/>
<ellipse cx="55.4" cy="39.9" rx="1.4" ry="6.2" transform="rotate(-7 55.4 39.9)" fill="#e4a8dd" stroke="#b05cbd" stroke-width="1.4"/>
<ellipse cx="55.4" cy="39.9" rx="0.4" ry="2.2" transform="rotate(-7 55.4 39.9)" fill="#f0cfea"/>
<ellipse cx="71.2" cy="40.6" rx="1.8" ry="5.5" transform="rotate(1 71.2 40.6)" fill="#e4a8dd" stroke="#b05cbd" stroke-width="1.4"/>
<ellipse cx="71.2" cy="40.6" rx="0.5" ry="2.0" transform="rotate(1 71.2 40.6)" fill="#f0cfea"/>
<ellipse cx="59.4" cy="44.6" rx="1.4" ry="5.0" transform="rotate(-8 59.4 44.6)" fill="#e4a8dd" stroke="#b05cbd" stroke-width="1.4"/>
<ellipse cx="70.8" cy="16.3" rx="1.6" ry="6.2" transform="rotate(2 70.8 16.3)" fill="#e4a8dd" stroke="#b05cbd" stroke-width="1.4"/>
<ellipse cx="70.8" cy="16.3" rx="0.4" ry="2.2" transform="rotate(2 70.8 16.3)" fill="#f0cfea"/>
<ellipse cx="77.3" cy="34.6" rx="1.6" ry="4.8" transform="rotate(-6 77.3 34.6)" fill="#e4a8dd" stroke="#b05cbd" stroke-width="1.4"/>
<ellipse cx="61.9" cy="34.3" rx="1.6" ry="5.6" transform="rotate(5 61.9 34.3)" fill="#e4a8dd" stroke="#b05cbd" stroke-width="1.4"/>
<ellipse cx="61.9" cy="34.3" rx="0.5" ry="2.0" transform="rotate(5 61.9 34.3)" fill="#f0cfea"/>
<ellipse cx="53.1" cy="31.8" rx="1.5" ry="6.2" transform="rotate(-7 53.1 31.8)" fill="#e4a8dd" stroke="#b05cbd" stroke-width="1.4"/>
<ellipse cx="53.1" cy="31.8" rx="0.4" ry="2.2" transform="rotate(-7 53.1 31.8)" fill="#f0cfea"/>
<ellipse cx="64.6" cy="23.6" rx="1.7" ry="6.3" transform="rotate(-1 64.6 23.6)" fill="#e4a8dd" stroke="#b05cbd" stroke-width="1.4"/>
<ellipse cx="64.6" cy="23.6" rx="0.5" ry="2.3" transform="rotate(-1 64.6 23.6)" fill="#f0cfea"/>
<ellipse cx="68.6" cy="32.3" rx="1.5" ry="6.2" transform="rotate(4 68.6 32.3)" fill="#e4a8dd" stroke="#b05cbd" stroke-width="1.4"/>
<ellipse cx="68.6" cy="32.3" rx="0.4" ry="2.2" transform="rotate(4 68.6 32.3)" fill="#f0cfea"/>
<ellipse cx="61.8" cy="8.4" rx="1.4" ry="5.7" transform="rotate(-0 61.8 8.4)" fill="#e4a8dd" stroke="#b05cbd" stroke-width="1.4"/>
<ellipse cx="49.7" cy="7.6" rx="1.7" ry="5.0" transform="rotate(8 49.7 7.6)" fill="#e4a8dd" stroke="#b05cbd" stroke-width="1.4"/>
<ellipse cx="55.4" cy="23.6" rx="1.6" ry="4.9" transform="rotate(-0 55.4 23.6)" fill="#e4a8dd" stroke="#b05cbd" stroke-width="1.4"/>
<ellipse cx="74.5" cy="7.1" rx="1.5" ry="5.1" transform="rotate(4 74.5 7.1)" fill="#e4a8dd" stroke="#b05cbd" stroke-width="1.4"/>
<ellipse cx="50.3" cy="43.4" rx="1.5" ry="6.5" transform="rotate(-1 50.3 43.4)" fill="#e4a8dd" stroke="#b05cbd" stroke-width="1.4"/>
<ellipse cx="50.3" cy="43.4" rx="0.4" ry="2.3" transform="rotate(-1 50.3 43.4)" fill="#f0cfea"/>
<ellipse cx="48.5" cy="17.6" rx="1.5" ry="4.6" transform="rotate(2 48.5 17.6)" fill="#e4a8dd" stroke="#b05cbd" stroke-width="1.4"/>
<ellipse cx="62.6" cy="17.1" rx="1.4" ry="5.5" transform="rotate(3 62.6 17.1)" fill="#e4a8dd" stroke="#b05cbd" stroke-width="1.4"/>
<ellipse cx="77.3" cy="44.8" rx="1.5" ry="5.2" transform="rotate(8 77.3 44.8)" fill="#e4a8dd" stroke="#b05cbd" stroke-width="1.4"/>
<ellipse cx="79.4" cy="18.8" rx="1.7" ry="6.3" transform="rotate(8 79.4 18.8)" fill="#e4a8dd" stroke="#b05cbd" stroke-width="1.4"/>
<ellipse cx="79.4" cy="18.8" rx="0.5" ry="2.3" transform="rotate(8 79.4 18.8)" fill="#f0cfea"/>
<ellipse cx="49.7" cy="25.9" rx="1.6" ry="4.9" transform="rotate(5 49.7 25.9)" fill="#e4a8dd" stroke="#b05cbd" stroke-width="1.4"/>
<ellipse cx="70.9" cy="24.2" rx="1.5" ry="4.9" transform="rotate(8 70.9 24.2)" fill="#e4a8dd" stroke="#b05cbd" stroke-width="1.4"/>
<ellipse cx="57.7" cy="28.2" rx="1.4" ry="5.0" transform="rotate(-0 57.7 28.2)" fill="#e4a8dd" stroke="#b05cbd" stroke-width="1.4"/>
<ellipse cx="76.5" cy="25.8" rx="1.6" ry="6.1" transform="rotate(5 76.5 25.8)" fill="#e4a8dd" stroke="#b05cbd" stroke-width="1.4"/>
<ellipse cx="76.5" cy="25.8" rx="0.4" ry="2.2" transform="rotate(5 76.5 25.8)" fill="#f0cfea"/>
<ellipse cx="55.5" cy="10.3" rx="1.4" ry="5.9" transform="rotate(3 55.5 10.3)" fill="#e4a8dd" stroke="#b05cbd" stroke-width="1.4"/>
<ellipse cx="62.4" cy="40.0" rx="1.2" ry="5.5" transform="rotate(-2 62.4 40.0)" fill="#e4a8dd" stroke="#b05cbd" stroke-width="1.4"/>
<ellipse cx="70.6" cy="10.2" rx="1.4" ry="4.8" transform="rotate(1 70.6 10.2)" fill="#e4a8dd" stroke="#b05cbd" stroke-width="1.4"/>
<ellipse cx="74.0" cy="30.8" rx="1.7" ry="5.0" transform="rotate(10 74.0 30.8)" fill="#e4a8dd" stroke="#b05cbd" stroke-width="1.4"/>
<ellipse cx="67.8" cy="44.9" rx="1.4" ry="6.0" transform="rotate(6 67.8 44.9)" fill="#e4a8dd" stroke="#b05cbd" stroke-width="1.4"/>
<ellipse cx="78.5" cy="10.0" rx="1.3" ry="5.1" transform="rotate(10 78.5 10.0)" fill="#e4a8dd" stroke="#b05cbd" stroke-width="1.4"/>
<ellipse cx="64.1" cy="29.5" rx="1.4" ry="5.3" transform="rotate(-7 64.1 29.5)" fill="#e4a8dd" stroke="#b05cbd" stroke-width="1.4"/>
<ellipse cx="50.3" cy="37.7" rx="1.7" ry="5.6" transform="rotate(1 50.3 37.7)" fill="#e4a8dd" stroke="#b05cbd" stroke-width="1.4"/>
<ellipse cx="50.3" cy="37.7" rx="0.5" ry="2.0" transform="rotate(1 50.3 37.7)" fill="#f0cfea"/>
<ellipse cx="65.6" cy="11.8" rx="1.4" ry="5.9" transform="rotate(-4 65.6 11.8)" fill="#e4a8dd" stroke="#b05cbd" stroke-width="1.4"/>
<ellipse cx="67.0" cy="37.1" rx="1.3" ry="5.5" transform="rotate(8 67.0 37.1)" fill="#e4a8dd" stroke="#b05cbd" stroke-width="1.4"/>
<ellipse cx="76.9" cy="39.6" rx="1.5" ry="5.1" transform="rotate(2 76.9 39.6)" fill="#e4a8dd" stroke="#b05cbd" stroke-width="1.4"/>
<ellipse cx="51.6" cy="13.6" rx="1.5" ry="4.6" transform="rotate(-8 51.6 13.6)" fill="#e4a8dd" stroke="#b05cbd" stroke-width="1.4"/>
<ellipse cx="67.3" cy="5.9" rx="1.6" ry="6.6" transform="rotate(3 67.3 5.9)" fill="#e4a8dd" stroke="#b05cbd" stroke-width="1.4"/>
<ellipse cx="67.3" cy="5.9" rx="0.4" ry="2.4" transform="rotate(3 67.3 5.9)" fill="#f0cfea"/>
<ellipse cx="57.8" cy="5.8" rx="1.3" ry="5.1" transform="rotate(6 57.8 5.8)" fill="#e4a8dd" stroke="#b05cbd" stroke-width="1.4"/>
</g>
<polygon points="44.9,-1.0 58.1,-1.0 55.0,13.9 49.6,17.4" fill="#f8f1f7" filter="url(#hblur)"/>
<rect x="-1" y="-1" width="44.9" height="4.9" fill="#efcde8" filter="url(#hblur)"/>
<ellipse cx="1.5" cy="50.1" rx="2.6" ry="8" fill="#f2d8ee" stroke="#ab55bb" stroke-width="1.2" filter="url(#hblur)"/>
</g></g>
<rect x="54.0" y="441.0" width="232.0" height="138.60000000000002" fill="none" stroke="#000" stroke-width="1.3"/>
<line x1="131.0" y1="441.0" x2="131.0" y2="579.6" stroke="#000" stroke-width="1.3"/>
<line x1="208.5" y1="441.0" x2="208.5" y2="579.6" stroke="#000" stroke-width="1.3"/>
<line x1="54.0" y1="510.0" x2="286.0" y2="510.0" stroke="#000" stroke-width="1.3"/>
<line x1="49.60" y1="20.85" x2="187.50" y2="20.85" stroke="#9c153d" stroke-width="1.5" />
<circle cx="187.50" cy="20.85" r="2.15" fill="#8e1237" />
<path d="M63.60 20.85 H63.60 V38.00 H65.80 V42.30 H67.80 V46.80 H75.20 V51.00 H77.40 V55.40 H91.00 V59.60 H95.00 V64.00 H124.40 V68.20 H132.50 V72.80 H146.20 V86.00 H162.50 V94.30 H172.30 V99.00 H187.60 V99.00" fill="none" stroke="#50265f" stroke-width="1.4" stroke-dasharray="2.2 1.9"/>
<path d="M60.85 40.60 L66.35 40.60 L63.60 35.79 Z" fill="#50265f"/>
<path d="M63.05 44.90 L68.55 44.90 L65.80 40.09 Z" fill="#50265f"/>
<path d="M65.05 49.40 L70.55 49.40 L67.80 44.59 Z" fill="#50265f"/>
<path d="M72.45 53.60 L77.95 53.60 L75.20 48.79 Z" fill="#50265f"/>
<path d="M74.65 58.00 L80.15 58.00 L77.40 53.19 Z" fill="#50265f"/>
<path d="M88.25 62.20 L93.75 62.20 L91.00 57.39 Z" fill="#50265f"/>
<path d="M92.25 66.60 L97.75 66.60 L95.00 61.79 Z" fill="#50265f"/>
<path d="M121.65 70.80 L127.15 70.80 L124.40 65.99 Z" fill="#50265f"/>
<path d="M129.75 75.40 L135.25 75.40 L132.50 70.59 Z" fill="#50265f"/>
<path d="M143.45 88.60 L148.95 88.60 L146.20 83.79 Z" fill="#50265f"/>
<path d="M159.75 96.90 L165.25 96.90 L162.50 92.09 Z" fill="#50265f"/>
<path d="M169.55 101.60 L175.05 101.60 L172.30 96.79 Z" fill="#50265f"/>
<path d="M184.85 101.60 L190.35 101.60 L187.60 96.79 Z" fill="#50265f"/>
<path d="M105.00 20.85 H105.00 V42.50 H137.00 V46.80 H160.00 V51.20 H161.80 V55.50 H173.80 V59.80 H175.80 V64.60 H187.50 V64.60" fill="none" stroke="#69ae40" stroke-width="1.5"/>
<rect x="102.85" y="40.35" width="4.30" height="4.30" fill="#69ae40" />
<rect x="134.85" y="44.65" width="4.30" height="4.30" fill="#69ae40" />
<rect x="157.85" y="49.05" width="4.30" height="4.30" fill="#69ae40" />
<rect x="159.65" y="53.35" width="4.30" height="4.30" fill="#69ae40" />
<rect x="171.65" y="57.65" width="4.30" height="4.30" fill="#69ae40" />
<rect x="173.65" y="62.45" width="4.30" height="4.30" fill="#69ae40" />
<rect x="185.35" y="62.45" width="4.30" height="4.30" fill="#69ae40" />
<line x1="49.60" y1="17.35" x2="49.60" y2="112.30" stroke="#000" stroke-width="1.5" />
<line x1="48.90" y1="111.60" x2="191.00" y2="111.60" stroke="#000" stroke-width="1.5" />
<line x1="46.20" y1="111.60" x2="49.60" y2="111.60" stroke="#000" stroke-width="1.1" />
<text x="38.62" y="114.44999999999999" font-size="8.0" font-weight="normal" fill="#262626" textLength="4.58" lengthAdjust="spacingAndGlyphs" >0</text>
<line x1="46.20" y1="93.45" x2="49.60" y2="93.45" stroke="#000" stroke-width="1.1" />
<text x="34.03" y="96.29999999999998" font-size="8.0" font-weight="normal" fill="#262626" textLength="9.17" lengthAdjust="spacingAndGlyphs" >20</text>
<line x1="46.20" y1="75.30" x2="49.60" y2="75.30" stroke="#000" stroke-width="1.1" />
<text x="34.03" y="78.14999999999999" font-size="8.0" font-weight="normal" fill="#262626" textLength="9.17" lengthAdjust="spacingAndGlyphs" >40</text>
<line x1="46.20" y1="57.15" x2="49.60" y2="57.15" stroke="#000" stroke-width="1.1" />
<text x="34.03" y="60.0" font-size="8.0" font-weight="normal" fill="#262626" textLength="9.17" lengthAdjust="spacingAndGlyphs" >60</text>
<line x1="46.20" y1="39.00" x2="49.60" y2="39.00" stroke="#000" stroke-width="1.1" />
<text x="34.03" y="41.85" font-size="8.0" font-weight="normal" fill="#262626" textLength="9.17" lengthAdjust="spacingAndGlyphs" >80</text>
<line x1="46.20" y1="20.85" x2="49.60" y2="20.85" stroke="#000" stroke-width="1.1" />
<text x="29.45" y="23.699999999999996" font-size="8.0" font-weight="normal" fill="#262626" textLength="13.75" lengthAdjust="spacingAndGlyphs" >100</text>
<line x1="49.60" y1="111.60" x2="49.60" y2="115.20" stroke="#000" stroke-width="1.1" />
<text x="47.31" y="125.3" font-size="8.0" font-weight="normal" fill="#262626" textLength="4.58" lengthAdjust="spacingAndGlyphs" >0</text>
<line x1="69.30" y1="111.60" x2="69.30" y2="115.20" stroke="#000" stroke-width="1.1" />
<text x="64.72" y="125.3" font-size="8.0" font-weight="normal" fill="#262626" textLength="9.17" lengthAdjust="spacingAndGlyphs" >10</text>
<line x1="89.00" y1="111.60" x2="89.00" y2="115.20" stroke="#000" stroke-width="1.1" />
<text x="84.42" y="125.3" font-size="8.0" font-weight="normal" fill="#262626" textLength="9.17" lengthAdjust="spacingAndGlyphs" >20</text>
<line x1="108.70" y1="111.60" x2="108.70" y2="115.20" stroke="#000" stroke-width="1.1" />
<text x="104.12" y="125.3" font-size="8.0" font-weight="normal" fill="#262626" textLength="9.17" lengthAdjust="spacingAndGlyphs" >30</text>
<line x1="128.40" y1="111.60" x2="128.40" y2="115.20" stroke="#000" stroke-width="1.1" />
<text x="123.82" y="125.3" font-size="8.0" font-weight="normal" fill="#262626" textLength="9.17" lengthAdjust="spacingAndGlyphs" >40</text>
<line x1="148.10" y1="111.60" x2="148.10" y2="115.20" stroke="#000" stroke-width="1.1" />
<text x="143.52" y="125.3" font-size="8.0" font-weight="normal" fill="#262626" textLength="9.17" lengthAdjust="spacingAndGlyphs" >50</text>
<line x1="167.80" y1="111.60" x2="167.80" y2="115.20" stroke="#000" stroke-width="1.1" />
<text x="163.22" y="125.3" font-size="8.0" font-weight="normal" fill="#262626" textLength="9.17" lengthAdjust="spacingAndGlyphs" >60</text>
<line x1="187.50" y1="111.60" x2="187.50" y2="115.20" stroke="#000" stroke-width="1.1" />
<text x="182.92" y="125.3" font-size="8.0" font-weight="normal" fill="#262626" textLength="9.17" lengthAdjust="spacingAndGlyphs" >70</text>
<text x="120" y="138.79999999999998" font-size="10.2" text-anchor="middle" font-weight="bold" fill="#1c1c1c" textLength="41.6" lengthAdjust="spacingAndGlyphs" >After BMT (d)</text>
<text transform="translate(22.6 66.7) rotate(-90)" font-size="10.2" font-weight="bold" text-anchor="middle" fill="#1c1c1c" textLength="37.6" lengthAdjust="spacingAndGlyphs">Survival (%)</text>
<path d="M192.4 64.9 H196.3 V104.9 H192.4 M196.3 85.0 H199.8" fill="none" stroke="#111" stroke-width="1.2"/>
<text x="203.6" y="88.6" font-size="7.6" text-anchor="start" font-weight="bold" fill="#111" stroke="#111" stroke-width="0.3">**</text>
<line x1="49.20" y1="149.30" x2="60.00" y2="149.30" stroke="#9c153d" stroke-width="1.4" />
<circle cx="54.60" cy="149.30" r="2.1" fill="#9c153d" />
<line x1="49.80" y1="161.40" x2="51.10" y2="161.40" stroke="#2f5597" stroke-width="1.3" />
<line x1="58.20" y1="161.40" x2="59.50" y2="161.40" stroke="#2f5597" stroke-width="1.3" />
<circle cx="54.6" cy="161.4" r="2.3" fill="#fff" stroke="#2a4585" stroke-width="1.25"/>
<circle cx="54.60" cy="161.40" r="0.95" fill="#2a4585" />
<line x1="49.20" y1="173.20" x2="60.00" y2="173.20" stroke="#69ae40" stroke-width="1.5" />
<rect x="52.50" y="171.10" width="4.20" height="4.20" fill="#69ae40" />
<line x1="49.60" y1="185.40" x2="51.00" y2="185.40" stroke="#50265f" stroke-width="1.3" />
<line x1="58.20" y1="185.40" x2="59.60" y2="185.40" stroke="#50265f" stroke-width="1.3" />
<path d="M51.90 187.76 L57.30 187.76 L54.60 183.04 Z" fill="#50265f"/>
<text x="63.00" y="151.9" font-size="7.5" font-weight="normal" fill="#262626" textLength="26.74" lengthAdjust="spacingAndGlyphs">BALB/c</text>
<path d="M90.24 149.65 H95.69" stroke="#262626" stroke-width="0.55" fill="none" opacity="0.85"/>
<path d="M97.29 149.65 L94.89 148.40 L94.89 150.90 Z" fill="#262626"/>
<text x="97.59" y="151.9" font-size="7.5" font-weight="normal" fill="#262626" textLength="47.91" lengthAdjust="spacingAndGlyphs">BALB/c (<tspan font-style="italic">n</tspan>=7)</text>
<text x="63.00" y="164.0" font-size="7.5" font-weight="normal" fill="#262626" textLength="26.11" lengthAdjust="spacingAndGlyphs">BALB/c</text>
<path d="M89.61 161.75 H94.88" stroke="#262626" stroke-width="0.55" fill="none" opacity="0.85"/>
<path d="M96.48 161.75 L94.08 160.50 L94.08 163.00 Z" fill="#262626"/>
<text x="96.78" y="164.0" font-size="7.5" font-weight="normal" fill="#262626" textLength="77.02" lengthAdjust="spacingAndGlyphs">BALB/c+AT-406 (<tspan font-style="italic">n</tspan>=6)</text>
<text x="63.00" y="175.79999999999998" font-size="7.5" font-weight="normal" fill="#262626" textLength="9.70" lengthAdjust="spacingAndGlyphs">B6</text>
<path d="M73.20 173.55 H78.58" stroke="#262626" stroke-width="0.55" fill="none" opacity="0.85"/>
<path d="M80.18 173.55 L77.78 172.30 L77.78 174.80 Z" fill="#262626"/>
<text x="80.48" y="175.79999999999998" font-size="7.5" font-weight="normal" fill="#262626" textLength="51.82" lengthAdjust="spacingAndGlyphs">BALB/c (<tspan font-style="italic">n</tspan>=21)</text>
<text x="63.00" y="188.0" font-size="7.5" font-weight="normal" fill="#262626" textLength="9.56" lengthAdjust="spacingAndGlyphs">B6</text>
<path d="M73.06 185.75 H78.33" stroke="#262626" stroke-width="0.55" fill="none" opacity="0.85"/>
<path d="M79.93 185.75 L77.53 184.50 L77.53 187.00 Z" fill="#262626"/>
<text x="80.23" y="188.0" font-size="7.5" font-weight="normal" fill="#262626" textLength="81.27" lengthAdjust="spacingAndGlyphs">BALB/c+AT-406 (<tspan font-style="italic">n</tspan>=21)</text>
<line x1="268.30" y1="22.30" x2="406.41" y2="22.30" stroke="#9c153d" stroke-width="1.5" />
<circle cx="351.17" cy="22.30" r="2.15" fill="#8e1237" />
<circle cx="406.41" cy="22.30" r="2.15" fill="#8e1237" />
<path d="M280.40 22.30 H280.40 V37.20 H282.00 V46.20 H288.00 V55.20 H292.00 V57.80 H321.60 V61.60 H323.40 V64.80 H326.00 V67.20 H331.60 V69.40 H333.60 V79.00 H336.00 V84.20 H339.00 V91.00 H341.60 V94.00 H359.00 V96.60 H391.00 V100.00 H406.40 V100.00" fill="none" stroke="#50265f" stroke-width="1.4" stroke-dasharray="2.2 1.9"/>
<path d="M277.65 39.80 L283.15 39.80 L280.40 34.99 Z" fill="#50265f"/>
<path d="M279.25 48.80 L284.75 48.80 L282.00 43.99 Z" fill="#50265f"/>
<path d="M285.25 57.80 L290.75 57.80 L288.00 52.99 Z" fill="#50265f"/>
<path d="M289.25 60.40 L294.75 60.40 L292.00 55.59 Z" fill="#50265f"/>
<path d="M318.85 64.20 L324.35 64.20 L321.60 59.39 Z" fill="#50265f"/>
<path d="M320.65 67.40 L326.15 67.40 L323.40 62.59 Z" fill="#50265f"/>
<path d="M323.25 69.80 L328.75 69.80 L326.00 64.99 Z" fill="#50265f"/>
<path d="M328.85 72.00 L334.35 72.00 L331.60 67.19 Z" fill="#50265f"/>
<path d="M330.85 81.60 L336.35 81.60 L333.60 76.79 Z" fill="#50265f"/>
<path d="M333.25 86.80 L338.75 86.80 L336.00 81.99 Z" fill="#50265f"/>
<path d="M336.25 93.60 L341.75 93.60 L339.00 88.79 Z" fill="#50265f"/>
<path d="M338.85 96.60 L344.35 96.60 L341.60 91.79 Z" fill="#50265f"/>
<path d="M356.25 99.20 L361.75 99.20 L359.00 94.39 Z" fill="#50265f"/>
<path d="M388.25 102.60 L393.75 102.60 L391.00 97.79 Z" fill="#50265f"/>
<path d="M403.65 102.60 L409.15 102.60 L406.40 97.79 Z" fill="#50265f"/>
<path d="M278.00 22.30 H278.00 V26.00 H279.60 V29.20 H282.00 V32.40 H287.60 V35.20 H296.00 V38.80 H320.00 V42.00 H321.60 V45.40 H330.00 V48.60 H341.60 V51.40 H343.40 V55.20 H351.40 V56.00 H355.60 V59.80 H371.00 V64.00 H379.00 V72.60 H388.60 V77.40 H390.20 V80.80 H392.00 V83.40 H395.00 V86.20 H406.40 V86.20" fill="none" stroke="#69ae40" stroke-width="1.5"/>
<rect x="275.85" y="23.85" width="4.30" height="4.30" fill="#69ae40" />
<rect x="277.45" y="27.05" width="4.30" height="4.30" fill="#69ae40" />
<rect x="279.85" y="30.25" width="4.30" height="4.30" fill="#69ae40" />
<rect x="285.45" y="33.05" width="4.30" height="4.30" fill="#69ae40" />
<rect x="293.85" y="36.65" width="4.30" height="4.30" fill="#69ae40" />
<rect x="317.85" y="39.85" width="4.30" height="4.30" fill="#69ae40" />
<rect x="319.45" y="43.25" width="4.30" height="4.30" fill="#69ae40" />
<rect x="327.85" y="46.45" width="4.30" height="4.30" fill="#69ae40" />
<rect x="339.45" y="49.25" width="4.30" height="4.30" fill="#69ae40" />
<rect x="341.25" y="53.05" width="4.30" height="4.30" fill="#69ae40" />
<rect x="349.25" y="53.85" width="4.30" height="4.30" fill="#69ae40" />
<rect x="353.45" y="57.65" width="4.30" height="4.30" fill="#69ae40" />
<rect x="368.85" y="61.85" width="4.30" height="4.30" fill="#69ae40" />
<rect x="376.85" y="70.45" width="4.30" height="4.30" fill="#69ae40" />
<rect x="386.45" y="75.25" width="4.30" height="4.30" fill="#69ae40" />
<rect x="388.05" y="78.65" width="4.30" height="4.30" fill="#69ae40" />
<rect x="389.85" y="81.25" width="4.30" height="4.30" fill="#69ae40" />
<rect x="392.85" y="84.05" width="4.30" height="4.30" fill="#69ae40" />
<rect x="404.25" y="84.05" width="4.30" height="4.30" fill="#69ae40" />
<line x1="268.30" y1="18.80" x2="268.30" y2="112.50" stroke="#000" stroke-width="1.5" />
<line x1="267.60" y1="111.80" x2="409.60" y2="111.80" stroke="#000" stroke-width="1.5" />
<line x1="264.90" y1="111.80" x2="268.30" y2="111.80" stroke="#000" stroke-width="1.1" />
<text x="257.02" y="114.64999999999999" font-size="8.0" font-weight="normal" fill="#262626" textLength="4.58" lengthAdjust="spacingAndGlyphs" >0</text>
<line x1="264.90" y1="93.90" x2="268.30" y2="93.90" stroke="#000" stroke-width="1.1" />
<text x="252.43" y="96.75" font-size="8.0" font-weight="normal" fill="#262626" textLength="9.17" lengthAdjust="spacingAndGlyphs" >20</text>
<line x1="264.90" y1="76.00" x2="268.30" y2="76.00" stroke="#000" stroke-width="1.1" />
<text x="252.43" y="78.85" font-size="8.0" font-weight="normal" fill="#262626" textLength="9.17" lengthAdjust="spacingAndGlyphs" >40</text>
<line x1="264.90" y1="58.10" x2="268.30" y2="58.10" stroke="#000" stroke-width="1.1" />
<text x="252.43" y="60.949999999999996" font-size="8.0" font-weight="normal" fill="#262626" textLength="9.17" lengthAdjust="spacingAndGlyphs" >60</text>
<line x1="264.90" y1="40.20" x2="268.30" y2="40.20" stroke="#000" stroke-width="1.1" />
<text x="252.43" y="43.050000000000004" font-size="8.0" font-weight="normal" fill="#262626" textLength="9.17" lengthAdjust="spacingAndGlyphs" >80</text>
<line x1="264.90" y1="22.30" x2="268.30" y2="22.30" stroke="#000" stroke-width="1.1" />
<text x="247.85" y="25.15" font-size="8.0" font-weight="normal" fill="#262626" textLength="13.75" lengthAdjust="spacingAndGlyphs" >100</text>
<line x1="268.30" y1="111.80" x2="268.30" y2="115.40" stroke="#000" stroke-width="1.1" />
<text x="266.01" y="125.5" font-size="8.0" font-weight="normal" fill="#262626" textLength="4.58" lengthAdjust="spacingAndGlyphs" >0</text>
<line x1="288.03" y1="111.80" x2="288.03" y2="115.40" stroke="#000" stroke-width="1.1" />
<text x="283.45" y="125.5" font-size="8.0" font-weight="normal" fill="#262626" textLength="9.17" lengthAdjust="spacingAndGlyphs" >10</text>
<line x1="307.76" y1="111.80" x2="307.76" y2="115.40" stroke="#000" stroke-width="1.1" />
<text x="303.18" y="125.5" font-size="8.0" font-weight="normal" fill="#262626" textLength="9.17" lengthAdjust="spacingAndGlyphs" >20</text>
<line x1="327.49" y1="111.80" x2="327.49" y2="115.40" stroke="#000" stroke-width="1.1" />
<text x="322.91" y="125.5" font-size="8.0" font-weight="normal" fill="#262626" textLength="9.17" lengthAdjust="spacingAndGlyphs" >30</text>
<line x1="347.22" y1="111.80" x2="347.22" y2="115.40" stroke="#000" stroke-width="1.1" />
<text x="342.64" y="125.5" font-size="8.0" font-weight="normal" fill="#262626" textLength="9.17" lengthAdjust="spacingAndGlyphs" >40</text>
<line x1="366.95" y1="111.80" x2="366.95" y2="115.40" stroke="#000" stroke-width="1.1" />
<text x="362.37" y="125.5" font-size="8.0" font-weight="normal" fill="#262626" textLength="9.17" lengthAdjust="spacingAndGlyphs" >50</text>
<line x1="386.68" y1="111.80" x2="386.68" y2="115.40" stroke="#000" stroke-width="1.1" />
<text x="382.10" y="125.5" font-size="8.0" font-weight="normal" fill="#262626" textLength="9.17" lengthAdjust="spacingAndGlyphs" >60</text>
<line x1="406.41" y1="111.80" x2="406.41" y2="115.40" stroke="#000" stroke-width="1.1" />
<text x="401.83" y="125.5" font-size="8.0" font-weight="normal" fill="#262626" textLength="9.17" lengthAdjust="spacingAndGlyphs" >70</text>
<text x="338.5" y="139.0" font-size="10.2" text-anchor="middle" font-weight="bold" fill="#1c1c1c" textLength="41.6" lengthAdjust="spacingAndGlyphs" >After BMT (d)</text>
<text transform="translate(242.2 67.5) rotate(-90)" font-size="10.2" font-weight="bold" text-anchor="middle" fill="#1c1c1c" textLength="37.6" lengthAdjust="spacingAndGlyphs">Survival (%)</text>
<path d="M408.0 78.8 H411.9 V106.2 H408.0 M411.9 92.6 H416.2" fill="none" stroke="#111" stroke-width="1.2"/>
<text x="419.8" y="96.4" font-size="7.6" text-anchor="start" font-weight="bold" fill="#111" stroke="#111" stroke-width="0.3">*</text>
<line x1="266.30" y1="149.30" x2="277.80" y2="149.30" stroke="#9c153d" stroke-width="1.4" />
<circle cx="272.05" cy="149.30" r="2.1" fill="#9c153d" />
<line x1="266.90" y1="161.40" x2="268.20" y2="161.40" stroke="#2f5597" stroke-width="1.3" />
<line x1="276.00" y1="161.40" x2="277.30" y2="161.40" stroke="#2f5597" stroke-width="1.3" />
<circle cx="272.05" cy="161.4" r="2.3" fill="#fff" stroke="#2a4585" stroke-width="1.25"/>
<circle cx="272.05" cy="161.40" r="0.95" fill="#2a4585" />
<line x1="266.30" y1="173.20" x2="277.80" y2="173.20" stroke="#69ae40" stroke-width="1.5" />
<rect x="269.95" y="171.10" width="4.20" height="4.20" fill="#69ae40" />
<line x1="266.70" y1="185.40" x2="268.10" y2="185.40" stroke="#50265f" stroke-width="1.3" />
<line x1="276.00" y1="185.40" x2="277.40" y2="185.40" stroke="#50265f" stroke-width="1.3" />
<path d="M269.35 187.76 L274.75 187.76 L272.05 183.04 Z" fill="#50265f"/>
<text x="281.70" y="151.9" font-size="7.5" font-weight="normal" fill="#262626" textLength="28.46" lengthAdjust="spacingAndGlyphs">B6D2F1</text>
<path d="M310.66 149.65 H315.86" stroke="#262626" stroke-width="0.55" fill="none" opacity="0.85"/>
<path d="M317.46 149.65 L315.06 148.40 L315.06 150.90 Z" fill="#262626"/>
<text x="317.76" y="151.9" font-size="7.5" font-weight="normal" fill="#262626" textLength="48.94" lengthAdjust="spacingAndGlyphs">B6D2F1 (<tspan font-style="italic">n</tspan>=8)</text>
<text x="281.70" y="164.0" font-size="7.5" font-weight="normal" fill="#262626" textLength="28.29" lengthAdjust="spacingAndGlyphs">B6D2F1</text>
<path d="M310.49 161.75 H315.65" stroke="#262626" stroke-width="0.55" fill="none" opacity="0.85"/>
<path d="M317.25 161.75 L314.85 160.50 L314.85 163.00 Z" fill="#262626"/>
<text x="317.55" y="164.0" font-size="7.5" font-weight="normal" fill="#262626" textLength="78.45" lengthAdjust="spacingAndGlyphs">B6D2F1+AT-406 (<tspan font-style="italic">n</tspan>=6)</text>
<text x="281.70" y="175.79999999999998" font-size="7.5" font-weight="normal" fill="#262626" textLength="9.58" lengthAdjust="spacingAndGlyphs">B6</text>
<path d="M291.78 173.55 H297.05" stroke="#262626" stroke-width="0.55" fill="none" opacity="0.85"/>
<path d="M298.65 173.55 L296.25 172.30 L296.25 174.80 Z" fill="#262626"/>
<text x="298.95" y="175.79999999999998" font-size="7.5" font-weight="normal" fill="#262626" textLength="53.75" lengthAdjust="spacingAndGlyphs">B6D2F1 (<tspan font-style="italic">n</tspan>=27)</text>
<text x="281.70" y="188.0" font-size="7.5" font-weight="normal" fill="#262626" textLength="9.53" lengthAdjust="spacingAndGlyphs">B6</text>
<path d="M291.73 185.75 H296.96" stroke="#262626" stroke-width="0.55" fill="none" opacity="0.85"/>
<path d="M298.56 185.75 L296.16 184.50 L296.16 187.00 Z" fill="#262626"/>
<text x="298.86" y="188.0" font-size="7.5" font-weight="normal" fill="#262626" textLength="83.54" lengthAdjust="spacingAndGlyphs">B6D2F1+AT-406 (<tspan font-style="italic">n</tspan>=30)</text>
<text x="7.7" y="17.5" font-size="11.6" text-anchor="start" font-weight="bold" fill="#000" stroke="#000" stroke-width="0.45">A</text>
<text x="226.5" y="17.5" font-size="11.6" text-anchor="start" font-weight="bold" fill="#000" stroke="#000" stroke-width="0.45">B</text>
<text x="8" y="216" font-size="11.6" text-anchor="start" font-weight="bold" fill="#000" stroke="#000" stroke-width="0.45">C</text>
<text x="163" y="216" font-size="11.6" text-anchor="start" font-weight="bold" fill="#000" stroke="#000" stroke-width="0.45">D</text>
<text x="344.8" y="216" font-size="11.6" text-anchor="start" font-weight="bold" fill="#000" stroke="#000" stroke-width="0.45">E</text>
<text x="8" y="428.3" font-size="11.6" text-anchor="start" font-weight="bold" fill="#000" stroke="#000" stroke-width="0.45">F</text>
<text x="7.2" y="511.1" font-size="11.6" text-anchor="start" font-weight="bold" fill="#000" stroke="#000" stroke-width="0.45">G</text>
<text x="346.6" y="428.4" font-size="11.6" text-anchor="start" font-weight="bold" fill="#000" stroke="#000" stroke-width="0.45">H</text>
<text x="92" y="223.9" font-size="9.8" text-anchor="middle" font-weight="bold" fill="#000" textLength="109.5" lengthAdjust="spacingAndGlyphs" stroke="#000" stroke-width="0.36">Donor T cell expansion</text>
<text x="92.2" y="235.7" font-size="9.8" text-anchor="middle" font-weight="bold" fill="#000" textLength="33" lengthAdjust="spacingAndGlyphs" stroke="#000" stroke-width="0.36">(Day 6)</text>
<text x="36.00" y="252.0" font-size="7.4" font-weight="normal" fill="#262626" textLength="14.97" lengthAdjust="spacingAndGlyphs" >[x10</text>
<text x="51.17" y="249.1" font-size="5.6" font-weight="normal" fill="#262626" textLength="3.43" lengthAdjust="spacingAndGlyphs" >6</text>
<text x="54.87" y="252.0" font-size="7.4" font-weight="normal" fill="#262626" textLength="2.20" lengthAdjust="spacingAndGlyphs" >]</text>
<rect x="56.00" y="323.00" width="29.00" height="32.10" fill="#69ae40" />
<path d="M70.60 323.50 V316.40 M63.30 316.40 H77.90" fill="none" stroke="#000" stroke-width="1.35"/>
<rect x="99.00" y="294.60" width="29.00" height="60.50" fill="#50265f" />
<path d="M113.60 295.10 V274.70 M106.50 274.70 H120.70" fill="none" stroke="#000" stroke-width="1.35"/>
<line x1="49.50" y1="260.40" x2="49.50" y2="355.75" stroke="#000" stroke-width="1.35" />
<line x1="46.20" y1="262.00" x2="49.50" y2="262.00" stroke="#000" stroke-width="1.1" />
<text x="38.36" y="264.75" font-size="7.7" font-weight="normal" fill="#262626" textLength="4.54" lengthAdjust="spacingAndGlyphs" >4</text>
<line x1="46.20" y1="285.28" x2="49.50" y2="285.28" stroke="#000" stroke-width="1.1" />
<text x="38.36" y="288.03" font-size="7.7" font-weight="normal" fill="#262626" textLength="4.54" lengthAdjust="spacingAndGlyphs" >3</text>
<line x1="46.20" y1="308.56" x2="49.50" y2="308.56" stroke="#000" stroke-width="1.1" />
<text x="38.36" y="311.31" font-size="7.7" font-weight="normal" fill="#262626" textLength="4.54" lengthAdjust="spacingAndGlyphs" >2</text>
<line x1="46.20" y1="331.84" x2="49.50" y2="331.84" stroke="#000" stroke-width="1.1" />
<text x="38.36" y="334.59000000000003" font-size="7.7" font-weight="normal" fill="#262626" textLength="4.54" lengthAdjust="spacingAndGlyphs" >1</text>
<line x1="46.20" y1="355.12" x2="49.50" y2="355.12" stroke="#000" stroke-width="1.1" />
<text x="38.36" y="357.87" font-size="7.7" font-weight="normal" fill="#262626" textLength="4.54" lengthAdjust="spacingAndGlyphs" >0</text>
<line x1="48.85" y1="355.10" x2="135.40" y2="355.10" stroke="#000" stroke-width="1.35" />
<line x1="70.60" y1="355.10" x2="70.60" y2="358.60" stroke="#000" stroke-width="1.1" />
<line x1="113.60" y1="355.10" x2="113.60" y2="358.60" stroke="#000" stroke-width="1.1" />
<path d="M68.7 268.2 V261.7 H113.9 V268.2" fill="none" stroke="#000" stroke-width="1.15"/>
<text x="78.23" y="259.0" font-size="7.8" font-weight="normal" fill="#262626" textLength="24.74" lengthAdjust="spacingAndGlyphs" >P=0.17</text>
<text x="207.6" y="223.8" font-size="9.8" font-weight="bold" fill="#000" stroke="#000" stroke-width="0.36" textLength="56.8" lengthAdjust="spacingAndGlyphs">Donor CD44</text>
<text x="264.5" y="220.5" font-size="7.6" font-weight="bold" fill="#000" stroke="#000" stroke-width="0.36">+</text>
<text x="269.2" y="223.8" font-size="9.8" font-weight="bold" fill="#000" stroke="#000" stroke-width="0.36" textLength="31.6" lengthAdjust="spacingAndGlyphs">CD62L</text>
<text x="301.1" y="219.8" font-size="7.6" font-weight="bold" fill="#000" stroke="#000" stroke-width="0.36">-</text>
<text x="255.4" y="235.7" font-size="9.8" text-anchor="middle" font-weight="bold" fill="#000" textLength="65.8" lengthAdjust="spacingAndGlyphs" stroke="#000" stroke-width="0.36">T cells (Day 6)</text>
<text x="179.00" y="252.0" font-size="7.4" font-weight="normal" fill="#262626" textLength="14.97" lengthAdjust="spacingAndGlyphs" >[x10</text>
<text x="194.17" y="249.1" font-size="5.6" font-weight="normal" fill="#262626" textLength="3.43" lengthAdjust="spacingAndGlyphs" >6</text>
<text x="197.87" y="252.0" font-size="7.4" font-weight="normal" fill="#262626" textLength="2.20" lengthAdjust="spacingAndGlyphs" >]</text>
<rect x="198.20" y="322.60" width="20.80" height="32.50" fill="#69ae40" />
<path d="M208.30 323.10 V314.00 M203.00 314.00 H213.60" fill="none" stroke="#000" stroke-width="1.35"/>
<rect x="229.40" y="297.00" width="21.00" height="58.10" fill="#50265f" />
<path d="M239.60 297.50 V278.00 M234.10 278.00 H245.10" fill="none" stroke="#000" stroke-width="1.35"/>
<rect x="261.00" y="339.40" width="21.40" height="15.70" fill="#69ae40" />
<path d="M271.60 339.90 V334.60 M266.10 334.60 H277.10" fill="none" stroke="#000" stroke-width="1.35"/>
<rect x="292.50" y="313.00" width="21.30" height="42.10" fill="#50265f" />
<path d="M303.30 313.50 V296.60 M297.80 296.60 H308.80" fill="none" stroke="#000" stroke-width="1.35"/>
<line x1="192.50" y1="261.45" x2="192.50" y2="355.75" stroke="#000" stroke-width="1.35" />
<line x1="189.20" y1="263.05" x2="192.50" y2="263.05" stroke="#000" stroke-width="1.1" />
<text x="174.25" y="265.8" font-size="7.7" font-weight="normal" fill="#262626" textLength="11.35" lengthAdjust="spacingAndGlyphs" >2.0</text>
<line x1="189.20" y1="286.07" x2="192.50" y2="286.07" stroke="#000" stroke-width="1.1" />
<text x="174.25" y="288.82" font-size="7.7" font-weight="normal" fill="#262626" textLength="11.35" lengthAdjust="spacingAndGlyphs" >1.5</text>
<line x1="189.20" y1="309.09" x2="192.50" y2="309.09" stroke="#000" stroke-width="1.1" />
<text x="174.25" y="311.84000000000003" font-size="7.7" font-weight="normal" fill="#262626" textLength="11.35" lengthAdjust="spacingAndGlyphs" >1.0</text>
<line x1="189.20" y1="332.11" x2="192.50" y2="332.11" stroke="#000" stroke-width="1.1" />
<text x="174.25" y="334.86" font-size="7.7" font-weight="normal" fill="#262626" textLength="11.35" lengthAdjust="spacingAndGlyphs" >0.5</text>
<line x1="189.20" y1="355.13" x2="192.50" y2="355.13" stroke="#000" stroke-width="1.1" />
<text x="174.25" y="357.88" font-size="7.7" font-weight="normal" fill="#262626" textLength="11.35" lengthAdjust="spacingAndGlyphs" >0.0</text>
<line x1="191.85" y1="355.10" x2="319.70" y2="355.10" stroke="#000" stroke-width="1.35" />
<line x1="208.30" y1="355.10" x2="208.30" y2="358.60" stroke="#000" stroke-width="1.1" />
<line x1="239.60" y1="355.10" x2="239.60" y2="358.60" stroke="#000" stroke-width="1.1" />
<line x1="271.60" y1="355.10" x2="271.60" y2="358.60" stroke="#000" stroke-width="1.1" />
<line x1="303.30" y1="355.10" x2="303.30" y2="358.60" stroke="#000" stroke-width="1.1" />
<path d="M272.4 268.4 V260.9 H307.2 V268.4" fill="none" stroke="#000" stroke-width="1.15"/>
<text x="277.23" y="258.5" font-size="7.8" font-weight="normal" fill="#262626" textLength="24.74" lengthAdjust="spacingAndGlyphs" >P=0.12</text>
<line x1="207.80" y1="361.60" x2="240.20" y2="361.60" stroke="#000" stroke-width="1.15" />
<line x1="270.60" y1="361.60" x2="304.50" y2="361.60" stroke="#000" stroke-width="1.15" />
<text x="213.66" y="375.3" font-size="8.0" font-weight="normal" fill="#262626" textLength="16.48" lengthAdjust="spacingAndGlyphs" >CD4</text>
<text x="230.44" y="372.40000000000003" font-size="6.2" font-weight="normal" fill="#262626" textLength="3.62" lengthAdjust="spacingAndGlyphs" >+</text>
<text x="276.86" y="375.3" font-size="8.0" font-weight="normal" fill="#262626" textLength="16.48" lengthAdjust="spacingAndGlyphs" >CD8</text>
<text x="293.64" y="372.40000000000003" font-size="6.2" font-weight="normal" fill="#262626" textLength="3.62" lengthAdjust="spacingAndGlyphs" >+</text>
<text x="395.4" y="223.8" font-size="9.8" font-weight="bold" fill="#000" stroke="#000" stroke-width="0.36" textLength="28.6" lengthAdjust="spacingAndGlyphs">Donor</text>
<text x="430.2" y="223.8" font-size="9.8" font-weight="bold" fill="#000" stroke="#000" stroke-width="0.36" textLength="25" lengthAdjust="spacingAndGlyphs">IFN-&#947;</text>
<text x="455.6" y="221.1" font-size="7.6" font-weight="bold" fill="#000" stroke="#000" stroke-width="0.36">+</text>
<text x="463.4" y="223.8" font-size="9.8" font-weight="bold" fill="#000" stroke="#000" stroke-width="0.36" textLength="30.4" lengthAdjust="spacingAndGlyphs">T cells</text>
<text x="446.2" y="235.7" font-size="9.8" text-anchor="middle" font-weight="bold" fill="#000" textLength="33.4" lengthAdjust="spacingAndGlyphs" stroke="#000" stroke-width="0.36">(Day 6)</text>
<text x="368.30" y="252.0" font-size="7.4" font-weight="normal" fill="#262626" textLength="14.97" lengthAdjust="spacingAndGlyphs" >[x10</text>
<text x="383.47" y="249.1" font-size="5.6" font-weight="normal" fill="#262626" textLength="3.43" lengthAdjust="spacingAndGlyphs" >6</text>
<text x="387.17" y="252.0" font-size="7.4" font-weight="normal" fill="#262626" textLength="2.20" lengthAdjust="spacingAndGlyphs" >]</text>
<rect x="387.40" y="336.40" width="21.20" height="18.70" fill="#69ae40" />
<path d="M398.00 336.90 V327.60 M392.60 327.60 H403.40" fill="none" stroke="#000" stroke-width="1.35"/>
<rect x="419.40" y="312.40" width="21.20" height="42.70" fill="#50265f" />
<path d="M429.70 312.90 V296.60 M424.10 296.60 H435.30" fill="none" stroke="#000" stroke-width="1.35"/>
<rect x="451.00" y="346.40" width="21.60" height="8.70" fill="#69ae40" />
<path d="M461.60 346.90 V342.60 M456.10 342.60 H467.10" fill="none" stroke="#000" stroke-width="1.35"/>
<rect x="483.00" y="312.50" width="21.60" height="42.60" fill="#50265f" />
<path d="M493.70 313.00 V294.50 M488.30 294.50 H499.10" fill="none" stroke="#000" stroke-width="1.35"/>
<line x1="381.90" y1="260.30" x2="381.90" y2="355.75" stroke="#000" stroke-width="1.35" />
<line x1="378.60" y1="261.90" x2="381.90" y2="261.90" stroke="#000" stroke-width="1.1" />
<text x="363.75" y="264.65" font-size="7.7" font-weight="normal" fill="#262626" textLength="11.35" lengthAdjust="spacingAndGlyphs" >1.5</text>
<line x1="378.60" y1="292.97" x2="381.90" y2="292.97" stroke="#000" stroke-width="1.1" />
<text x="363.75" y="295.71999999999997" font-size="7.7" font-weight="normal" fill="#262626" textLength="11.35" lengthAdjust="spacingAndGlyphs" >1.0</text>
<line x1="378.60" y1="324.04" x2="381.90" y2="324.04" stroke="#000" stroke-width="1.1" />
<text x="363.75" y="326.78999999999996" font-size="7.7" font-weight="normal" fill="#262626" textLength="11.35" lengthAdjust="spacingAndGlyphs" >0.5</text>
<line x1="378.60" y1="355.11" x2="381.90" y2="355.11" stroke="#000" stroke-width="1.1" />
<text x="363.75" y="357.86" font-size="7.7" font-weight="normal" fill="#262626" textLength="11.35" lengthAdjust="spacingAndGlyphs" >0.0</text>
<line x1="381.25" y1="355.10" x2="510.40" y2="355.10" stroke="#000" stroke-width="1.35" />
<line x1="398.00" y1="355.10" x2="398.00" y2="358.60" stroke="#000" stroke-width="1.1" />
<line x1="429.70" y1="355.10" x2="429.70" y2="358.60" stroke="#000" stroke-width="1.1" />
<line x1="461.60" y1="355.10" x2="461.60" y2="358.60" stroke="#000" stroke-width="1.1" />
<line x1="493.70" y1="355.10" x2="493.70" y2="358.60" stroke="#000" stroke-width="1.1" />
<line x1="397.60" y1="361.60" x2="430.00" y2="361.60" stroke="#000" stroke-width="1.15" />
<line x1="461.50" y1="361.60" x2="494.50" y2="361.60" stroke="#000" stroke-width="1.15" />
<text x="403.66" y="375.3" font-size="8.0" font-weight="normal" fill="#262626" textLength="16.48" lengthAdjust="spacingAndGlyphs" >CD4</text>
<text x="420.44" y="372.40000000000003" font-size="6.2" font-weight="normal" fill="#262626" textLength="3.62" lengthAdjust="spacingAndGlyphs" >+</text>
<text x="467.26" y="375.3" font-size="8.0" font-weight="normal" fill="#262626" textLength="16.48" lengthAdjust="spacingAndGlyphs" >CD8</text>
<text x="484.04" y="372.40000000000003" font-size="6.2" font-weight="normal" fill="#262626" textLength="3.62" lengthAdjust="spacingAndGlyphs" >+</text>
<rect x="176.40" y="395.50" width="7.10" height="4.10" fill="#69ae40" />
<text x="187.00" y="400.2" font-size="7.5" font-weight="normal" fill="#262626" textLength="11.77" lengthAdjust="spacingAndGlyphs">B6 </text>
<path d="M199.27 397.95 H204.55" stroke="#262626" stroke-width="0.55" fill="none" opacity="0.85"/>
<path d="M206.15 397.95 L203.75 396.70 L203.75 399.20 Z" fill="#262626"/>
<text x="206.45" y="400.2" font-size="7.5" font-weight="normal" fill="#262626" textLength="26.15" lengthAdjust="spacingAndGlyphs">BALB/c</text>
<rect x="242.70" y="395.50" width="7.10" height="4.10" fill="#50265f" />
<text x="254.00" y="400.2" font-size="7.5" font-weight="normal" fill="#262626" textLength="11.63" lengthAdjust="spacingAndGlyphs">B6 </text>
<path d="M266.13 397.95 H271.32" stroke="#262626" stroke-width="0.55" fill="none" opacity="0.85"/>
<path d="M272.92 397.95 L270.52 396.70 L270.52 399.20 Z" fill="#262626"/>
<text x="273.22" y="400.2" font-size="7.5" font-weight="normal" fill="#262626" textLength="55.78" lengthAdjust="spacingAndGlyphs">BALB/c+AT-406</text>
<text x="446.1" y="439.2" font-size="9.8" text-anchor="middle" font-weight="bold" fill="#000" textLength="71.4" lengthAdjust="spacingAndGlyphs" stroke="#000" stroke-width="0.36">GI tract (Day 6)</text>
<rect x="387.40" y="537.60" width="21.20" height="10.40" fill="#c5062f" />
<path d="M398.00 538.10 V533.40 M392.70 533.40 H403.30" fill="none" stroke="#000" stroke-width="1.35"/>
<rect x="419.40" y="532.60" width="21.00" height="15.40" fill="#2a4c89" />
<path d="M429.70 533.10 V524.60 M424.10 524.60 H435.30" fill="none" stroke="#000" stroke-width="1.35"/>
<rect x="451.00" y="509.00" width="21.40" height="39.00" fill="#69ae40" />
<path d="M461.60 509.50 V499.00 M456.10 499.00 H467.10" fill="none" stroke="#000" stroke-width="1.35"/>
<rect x="483.00" y="477.40" width="21.40" height="70.60" fill="#50265f" />
<path d="M493.60 477.90 V467.50 M488.10 467.50 H499.10" fill="none" stroke="#000" stroke-width="1.35"/>
<line x1="381.90" y1="453.40" x2="381.90" y2="548.65" stroke="#000" stroke-width="1.35" />
<line x1="378.60" y1="455.00" x2="381.90" y2="455.00" stroke="#000" stroke-width="1.1" />
<text x="366.97" y="457.75" font-size="8.0" font-weight="normal" fill="#262626" textLength="9.43" lengthAdjust="spacingAndGlyphs" >15</text>
<line x1="378.60" y1="486.00" x2="381.90" y2="486.00" stroke="#000" stroke-width="1.1" />
<text x="366.97" y="488.75" font-size="8.0" font-weight="normal" fill="#262626" textLength="9.43" lengthAdjust="spacingAndGlyphs" >10</text>
<line x1="378.60" y1="517.00" x2="381.90" y2="517.00" stroke="#000" stroke-width="1.1" />
<text x="371.68" y="519.75" font-size="8.0" font-weight="normal" fill="#262626" textLength="4.72" lengthAdjust="spacingAndGlyphs" >5</text>
<line x1="378.60" y1="548.00" x2="381.90" y2="548.00" stroke="#000" stroke-width="1.1" />
<text x="371.68" y="550.75" font-size="8.0" font-weight="normal" fill="#262626" textLength="4.72" lengthAdjust="spacingAndGlyphs" >0</text>
<line x1="381.25" y1="548.00" x2="510.20" y2="548.00" stroke="#000" stroke-width="1.35" />
<line x1="398.00" y1="548.00" x2="398.00" y2="551.50" stroke="#000" stroke-width="1.1" />
<line x1="429.70" y1="548.00" x2="429.70" y2="551.50" stroke="#000" stroke-width="1.1" />
<line x1="461.60" y1="548.00" x2="461.60" y2="551.50" stroke="#000" stroke-width="1.1" />
<line x1="493.60" y1="548.00" x2="493.60" y2="551.50" stroke="#000" stroke-width="1.1" />
<path d="M461.6 459.4 V454.1 H493.0 V459.4" fill="none" stroke="#000" stroke-width="1.15"/>
<text x="477.4" y="452.4" font-size="8" text-anchor="middle" font-weight="normal" fill="#111" stroke="#111" stroke-width="0.2">*</text>
<text transform="translate(359.4 503) rotate(-90)" font-size="10.2" font-weight="bold" text-anchor="middle" fill="#1c1c1c" textLength="94.5" lengthAdjust="spacingAndGlyphs">GVHD histopathological score</text>
<rect x="382.00" y="556.80" width="7.30" height="4.20" fill="#c5062f" />
<text x="393.00" y="561.3000000000001" font-size="7.6" font-weight="normal" fill="#262626" textLength="26.59" lengthAdjust="spacingAndGlyphs">BALB/c</text>
<path d="M420.09 559.02 H425.51" stroke="#262626" stroke-width="0.55" fill="none" opacity="0.85"/>
<path d="M427.11 559.02 L424.71 557.77 L424.71 560.27 Z" fill="#262626"/>
<text x="427.41" y="561.3000000000001" font-size="7.6" font-weight="normal" fill="#262626" textLength="26.59" lengthAdjust="spacingAndGlyphs">BALB/c</text>
<rect x="382.00" y="568.80" width="7.30" height="4.20" fill="#2a4c89" />
<text x="393.00" y="573.3000000000001" font-size="7.6" font-weight="normal" fill="#262626" textLength="25.95" lengthAdjust="spacingAndGlyphs">BALB/c</text>
<path d="M419.45 571.02 H424.68" stroke="#262626" stroke-width="0.55" fill="none" opacity="0.85"/>
<path d="M426.28 571.02 L423.88 569.77 L423.88 572.27 Z" fill="#262626"/>
<text x="426.58" y="573.3000000000001" font-size="7.6" font-weight="normal" fill="#262626" textLength="56.02" lengthAdjust="spacingAndGlyphs">BALB/c+AT-406</text>
<rect x="382.00" y="581.10" width="7.30" height="4.20" fill="#69ae40" />
<text x="393.00" y="585.6" font-size="7.6" font-weight="normal" fill="#262626" textLength="9.72" lengthAdjust="spacingAndGlyphs">B6</text>
<path d="M403.22 583.32 H408.60" stroke="#262626" stroke-width="0.55" fill="none" opacity="0.85"/>
<path d="M410.20 583.32 L407.80 582.07 L407.80 584.57 Z" fill="#262626"/>
<text x="410.50" y="585.6" font-size="7.6" font-weight="normal" fill="#262626" textLength="26.50" lengthAdjust="spacingAndGlyphs">BALB/c</text>
<rect x="382.00" y="593.20" width="7.30" height="4.20" fill="#50265f" />
<text x="393.00" y="597.7" font-size="7.6" font-weight="normal" fill="#262626" textLength="9.37" lengthAdjust="spacingAndGlyphs">B6</text>
<path d="M402.87 595.42 H407.97" stroke="#262626" stroke-width="0.55" fill="none" opacity="0.85"/>
<path d="M409.57 595.42 L407.17 594.17 L407.17 596.67 Z" fill="#262626"/>
<text x="409.87" y="597.7" font-size="7.6" font-weight="normal" fill="#262626" textLength="55.13" lengthAdjust="spacingAndGlyphs">BALB/c+AT-406</text>
<text x="61.45" y="435.7" font-size="7.5" font-weight="normal" fill="#262626" textLength="26.81" lengthAdjust="spacingAndGlyphs">BALB/c</text>
<path d="M88.76 433.45 H94.24" stroke="#262626" stroke-width="0.55" fill="none" opacity="0.85"/>
<path d="M95.84 433.45 L93.44 432.20 L93.44 434.70 Z" fill="#262626"/>
<text x="96.14" y="435.7" font-size="7.5" font-weight="normal" fill="#262626" textLength="26.81" lengthAdjust="spacingAndGlyphs">BALB/c</text>
<text x="147.50" y="435.7" font-size="7.5" font-weight="normal" fill="#262626" textLength="9.72" lengthAdjust="spacingAndGlyphs">B6</text>
<path d="M157.72 433.45 H163.10" stroke="#262626" stroke-width="0.55" fill="none" opacity="0.85"/>
<path d="M164.70 433.45 L162.30 432.20 L162.30 434.70 Z" fill="#262626"/>
<text x="165.00" y="435.7" font-size="7.5" font-weight="normal" fill="#262626" textLength="26.50" lengthAdjust="spacingAndGlyphs">BALB/c</text>
<text x="211.50" y="435.7" font-size="7.5" font-weight="normal" fill="#262626" textLength="21.13" lengthAdjust="spacingAndGlyphs">B6BM</text>
<path d="M233.13 433.45 H238.34" stroke="#262626" stroke-width="0.55" fill="none" opacity="0.85"/>
<path d="M239.94 433.45 L237.54 432.20 L237.54 434.70 Z" fill="#262626"/>
<text x="240.24" y="435.7" font-size="7.5" font-weight="normal" fill="#262626" textLength="55.86" lengthAdjust="spacingAndGlyphs">BALB/c+AT-406</text>
<text x="37.0" y="473.8" font-size="7.5" text-anchor="middle" font-weight="normal" fill="#262626" textLength="18.5" lengthAdjust="spacingAndGlyphs" >Small</text>
<text x="37.3" y="482.8" font-size="7.5" text-anchor="middle" font-weight="normal" fill="#262626" textLength="27.9" lengthAdjust="spacingAndGlyphs" >intestine</text>
<text x="37.1" y="542.5" font-size="7.5" text-anchor="middle" font-weight="normal" fill="#262626" textLength="18.9" lengthAdjust="spacingAndGlyphs" >Large</text>
<text x="37.3" y="551.9" font-size="7.5" text-anchor="middle" font-weight="normal" fill="#262626" textLength="27.9" lengthAdjust="spacingAndGlyphs" >intestine</text>
</g>
<rect x="0.75" y="0.75" width="518.5" height="608.5" fill="none" stroke="#000" stroke-width="1.5"/>
</svg>
</body></html>
